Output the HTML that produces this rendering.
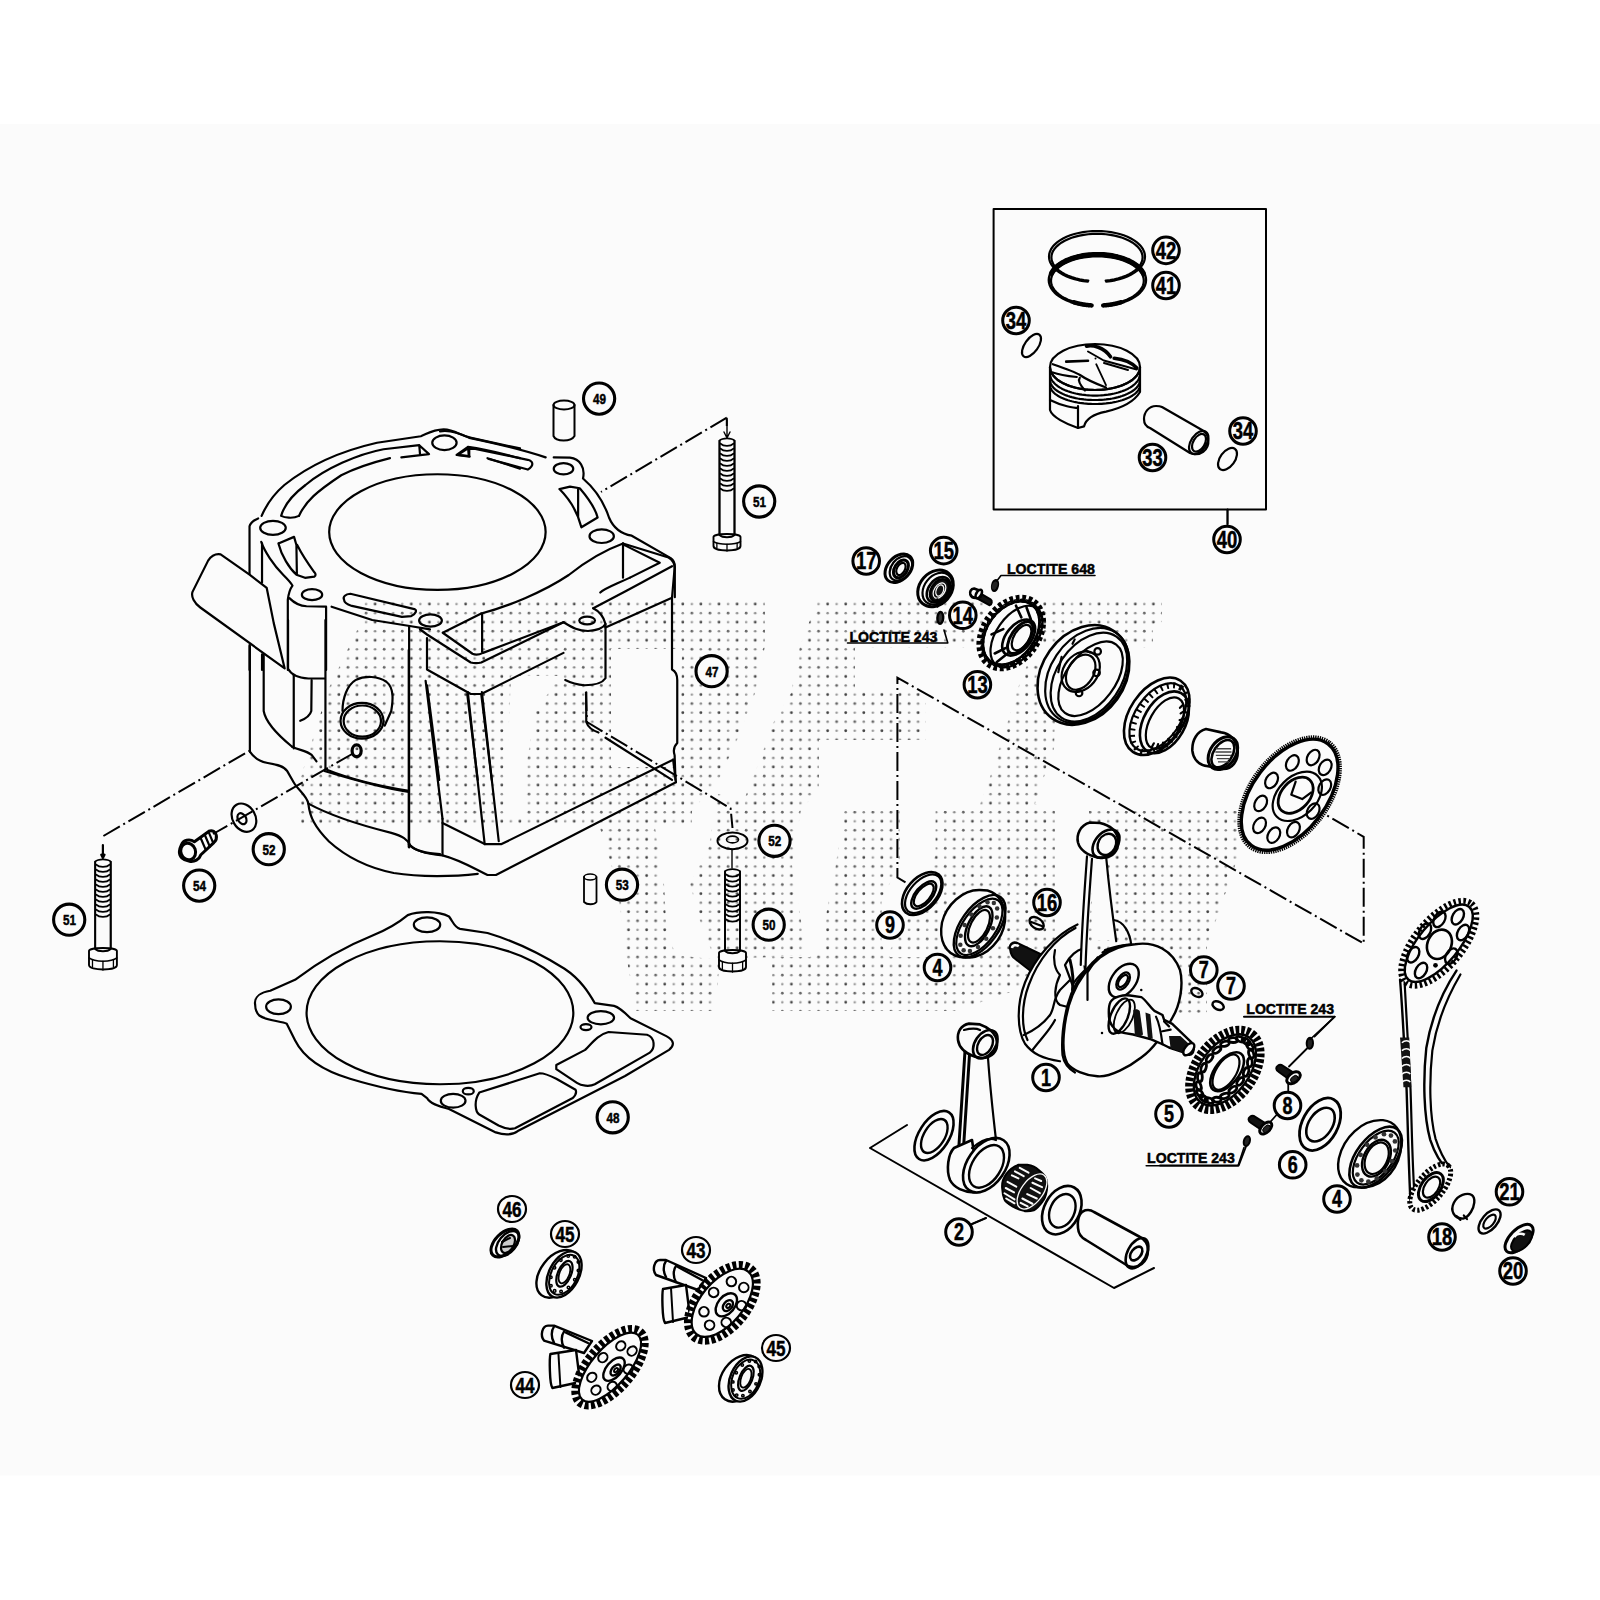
<!DOCTYPE html>
<html><head><meta charset="utf-8">
<style>
html,body{margin:0;padding:0;background:#fff;width:1600px;height:1600px;overflow:hidden}
svg{display:block}
.l{fill:none;stroke:#000;stroke-width:2.2;stroke-linecap:round;stroke-linejoin:round;vector-effect:non-scaling-stroke}
.lw{fill:#fbfbfb;stroke:#000;stroke-width:2.2;stroke-linejoin:round;vector-effect:non-scaling-stroke}
.th{fill:none;stroke:#000;stroke-width:1.4;stroke-linecap:round;vector-effect:non-scaling-stroke}
.d{fill:none;stroke:#000;stroke-width:2;stroke-dasharray:19 4 2 4;vector-effect:non-scaling-stroke}
.dd{fill:none;stroke:#000;stroke-width:1.6;stroke-dasharray:8 5;vector-effect:non-scaling-stroke}
.c{fill:#fbfbfb;stroke:#000;stroke-width:2.6}
.t{font-family:"Liberation Sans",sans-serif;font-weight:bold;fill:#000;stroke:#000;stroke-width:0.5;text-anchor:middle}
</style></head><body>
<svg width="1600" height="1600" viewBox="0 0 1600 1600">
<defs>
<pattern id="dots" x="8.575" y="2.235" width="18.1" height="18.1" patternUnits="userSpaceOnUse">
<circle cx="4.525" cy="4.525" r="1.4" fill="#444"/><circle cx="13.575" cy="4.525" r="1.3" fill="#999"/>
<circle cx="4.525" cy="13.575" r="1.3" fill="#888"/><circle cx="13.575" cy="13.575" r="1.4" fill="#666"/>
</pattern>
</defs>
<rect x="0" y="124" width="1600" height="1351.5" fill="#fbfbfb"/>
<polygon fill="url(#dots)" points="362,602 765,602 765,646 755,693 737,740 720,777 692,811 692,828 300,828 300,780 328,690 362,620"/>
<polygon fill="url(#dots)" points="600,828 655,828 664,884 666,921 675,955 720,960 715,1011 636,1011 627,960 617,884"/>
<polygon fill="url(#dots)" points="817,602 1162,602 1162,622 1153,624 1153,648 855,648 800,646"/>
<polygon fill="url(#dots)" points="800,646 855,648 855,690 926,693 926,740 819,740 819,790 801,809 792,865 801,921 805,955 715,960 700,921 690,884 709,846 718,794 744,800 760,760 772,725 791,693"/>
<polygon fill="url(#dots)" points="844,811 899.5,811 899.5,864 881.5,900 881.5,945 890,957 955,957 955,1011 772,1011 772,957 810,957 826,945 826,915 835,870"/>
<polygon fill="url(#dots)" points="1027,665 1087,665 1056,693 1054,749 1044,777 1035,804 1055,811 1055,977 955,1011 955,957 890,950 910,915 935.5,855 935.5,811 954,811 980,804 990,777 999,749 1008,721 1016,693"/>
<polygon fill="url(#dots)" points="1089,811 1254,811 1207,946 1207,1013 1089,1013"/>
<polygon fill="#fbfbfb" points="611,649 682,649 680,767 611,767"/>
<polygon fill="#fbfbfb" points="511,676 560,676 536,711 527,760 522,816 505,816"/>
<!-- CYLINDER F_C -->
<g transform="translate(180,420) scale(0.15625)">
<path class="l" d="M445,990 L445,680 C450,660 475,640 500,630"/>
<path class="l" d="M525,1040 L525,790"/>
<path class="l" d="M520,780 C540,840 600,930 660,990 C690,1020 715,1050 720,1060 C705,1080 695,1110 690,1150 L690,1600"/>
<path class="l" d="M700,1140 C730,1170 770,1190 810,1192 L935,1195 L935,1600"/>
<path class="l" d="M630,790 L730,748 L745,800 L748,985 M630,790 C650,870 700,950 745,990 L800,1010 L860,1002 C870,995 870,985 860,975 C820,920 780,860 750,800"/>
<path class="lw" d="M445,990 L260,860 C230,855 200,870 180,900 L80,1100 C70,1130 90,1170 130,1200 L670,1590 L600,1300 L555,1075 Z"/>
<path class="l" d="M445,1440 L445,1600 M525,1500 L525,1600"/>
<ellipse class="l" cx="595" cy="690" rx="82" ry="45"/>
<ellipse class="l" cx="845" cy="1118" rx="65" ry="35"/>
<path class="l" d="M1050,1150 C1040,1130 1060,1115 1090,1112 L1500,1210 C1520,1215 1510,1240 1480,1255 L1420,1260 L1100,1190 C1070,1180 1050,1170 1050,1150 Z"/>
<path class="l" d="M970,1195 L1230,1280 L1480,1320 L1600,1340"/>
</g>
<!-- F_A -->
<g transform="translate(260,420) scale(0.1625)">
<path class="l" d="M10,590 C40,520 80,460 150,400 C300,280 500,190 720,140 L990,100 C1030,85 1060,60 1130,58 C1200,60 1230,95 1300,110 L1600,175"/>
<path class="l" d="M240,590 C200,610 150,600 130,590 C150,520 200,460 280,400 C400,300 600,210 760,180 L980,155 L1040,210 L870,230 M980,155 L985,215"/>
<path class="l" d="M1210,215 L1280,165 C1400,180 1500,210 1600,235 M1290,225 L1210,215 M1280,165 L1285,225"/>
<path class="l" d="M240,590 C280,500 350,440 500,340 C600,290 700,260 800,235"/>
<path class="l" d="M1400,235 C1480,260 1540,280 1600,300"/>
<ellipse class="l" cx="1135" cy="140" rx="75" ry="45"/>
</g>
<!-- F_B -->
<g transform="translate(440,420) scale(0.1625)">
<path class="l" d="M0,70 C60,60 120,80 180,110 C300,135 500,180 650,230"/>
<path class="l" d="M700,230 L800,232 C860,240 895,290 880,360 C950,420 1010,510 1040,600 C1065,660 1110,700 1180,712 L1420,850 C1440,865 1445,885 1445,900 L1445,1090"/>
<path class="l" d="M110,215 L180,170 L540,245 C575,255 580,280 540,305 L300,240 M180,170 L180,222 L110,215"/>
<ellipse class="l" cx="760" cy="300" rx="60" ry="35"/>
<ellipse class="l" cx="995" cy="715" rx="75" ry="42"/>
<path class="l" d="M735,425 L800,410 L860,420 C920,490 960,560 970,600 L870,660 C850,580 810,500 735,425 Z M850,420 L850,600"/>
</g>
<!-- F_E box -->
<g transform="translate(420,540) scale(0.175)">
<path class="l" d="M350,420 C500,380 700,300 850,200 C950,120 1050,60 1160,20"/>
<ellipse class="l" cx="60" cy="460" rx="65" ry="35"/>
<path class="l" d="M130,530 L350,420 M355,425 L355,640 M130,530 L300,650 C320,660 340,655 360,645 L820,470"/>
<path class="l" d="M820,470 C870,500 900,520 960,520 C1020,515 1050,500 1060,480 L1060,790 C1040,820 1000,830 940,830 C880,825 850,810 830,800"/>
<ellipse class="l" cx="955" cy="460" rx="45" ry="22"/>
<path class="l" d="M990,390 C1030,410 1050,440 1060,480"/>
<path class="l" d="M0,510 L40,540 L290,700 C310,705 330,705 350,700 L820,470 M990,390 L1180,290 L1440,150"/>
<path class="l" d="M1160,20 L1420,100 C1445,115 1455,135 1455,160 L1440,330 L1060,500"/>
<path class="l" d="M1160,20 L1160,215 M1160,25 L1370,130 L1200,215"/>
<path class="l" d="M1030,300 C1050,280 1080,270 1200,215"/>
<path class="l" d="M40,560 L40,740 L290,880 L350,880 L820,645"/>
<path class="l" d="M40,830 L110,1371 M270,880 L330,1371 M350,880 L410,1371"/>
<path class="l" d="M950,870 L950,1040 C960,1070 990,1090 1020,1100"/>
<path class="l" d="M1060,1130 L1440,1371"/>
<path class="l" d="M1440,330 L1440,740 C1460,750 1470,770 1470,800 L1470,1160 C1450,1180 1445,1200 1455,1230 L1460,1371"/>
</g>
<g transform="translate(180,380) scale(0.325)">
<ellipse class="l" cx="792" cy="468" rx="333" ry="178"/>
</g>
<!-- F_F lower-left -->
<g transform="translate(180,620) scale(0.1625)">
<path class="l" d="M430,160 L430,810"/>
<path class="l" d="M515,215 L515,560 C525,620 580,690 690,780"/>
<path class="l" d="M665,0 L665,300 C680,330 720,355 790,360 L890,360"/>
<path class="l" d="M700,340 L700,790"/>
<path class="l" d="M810,370 L808,560 C800,590 780,605 740,620"/>
<path class="l" d="M895,0 L895,920"/>
<path class="l" d="M430,810 C450,840 480,870 540,880 C600,890 640,900 660,930 L700,1000 C730,1050 780,1080 790,1130"/>
<path class="l" d="M690,780 C730,800 780,805 810,830 L840,870"/>
<path class="l" d="M900,920 C1000,960 1150,1010 1400,1050"/>
<path class="l" d="M790,1130 C900,1190 1100,1260 1300,1310 C1370,1330 1400,1350 1420,1390 C1450,1420 1500,1435 1600,1440"/>
<path class="l" d="M1410,40 L1410,1400"/>
<path class="l" d="M1000,560 C1000,480 1030,400 1080,370 C1140,340 1220,345 1270,380 C1320,420 1310,500 1300,560 L1260,650"/>
<ellipse class="l" cx="1120" cy="620" rx="132" ry="110"/>
<ellipse class="l" cx="1122" cy="622" rx="115" ry="96"/>
<ellipse class="l" cx="1087" cy="805" rx="28" ry="36" style="stroke-width:3.2"/>
</g>
<!-- F_D bottom -->
<g transform="translate(240,650) scale(0.28125)">
<path class="l" d="M600,0 L600,700"/>
<path class="l" d="M300,430 C400,460 500,490 600,505"/>
<path class="l" d="M720,600 L720,730"/>
<path class="l" d="M660,110 L720,600 M810,150 L870,690 M860,150 L920,680"/>
<path class="l" d="M720,615 L870,690 L930,690 L1540,390"/>
<path class="l" d="M600,690 C620,715 660,725 720,730 C780,745 830,775 880,800 L910,800 L1550,470"/>
<path class="l" d="M1540,390 L1550,470"/>
</g>
<g transform="translate(280,740) scale(0.175)">
<path class="l" d="M162,363 C170,440 200,500 280,580 C380,670 500,730 650,760 C800,785 1000,780 1130,765"/>
</g>

<!-- LEFT BOLTS frame L1 (40,780) s=6.154 -->
<g transform="translate(40,780) scale(0.1625)">
<path class="l" d="M387,400 L387,478 M377,460 L387,480 L397,460"/>
<path class="lw" d="M870,400 C880,370 920,360 950,380 L1040,315 C1060,305 1080,320 1085,340 C1090,360 1080,375 1070,385 L990,460 C980,490 950,505 920,500 C880,495 855,470 858,440 C860,420 865,410 870,400 Z" style="stroke-width:3"/>
<ellipse class="l" cx="912" cy="440" rx="45" ry="52" transform="rotate(-20 912 440)" style="stroke-width:3"/>
<path class="th" d="M990,360 L1020,430 M1015,340 L1045,410 M1040,325 L1065,385" style="stroke-width:2.2"/>
<ellipse class="l" cx="1255" cy="232" rx="70" ry="92" transform="rotate(-30 1255 232)"/>
<ellipse class="l" cx="1243" cy="238" rx="25" ry="36" transform="rotate(-30 1243 238)"/>
</g>

<g transform="translate(240,900) scale(0.27503)">
<path class="l" d="M55,380 C50,350 80,335 110,330 L200,290 C280,230 380,170 480,130 C530,110 580,80 610,55 C650,40 720,40 760,60 C775,80 780,100 800,105 L900,120 C1000,150 1100,200 1180,250 C1240,290 1270,340 1290,375 L1360,385 C1380,390 1400,410 1420,430 L1550,495 C1580,510 1580,530 1560,545 L1400,640 L1010,840 C990,855 960,855 930,845 L760,760 C720,750 690,740 680,720 L660,705 C600,700 500,680 400,650 C300,620 230,570 200,510 L170,450 C150,440 100,440 70,420 C60,410 55,395 55,380 Z"/>
<ellipse class="l" cx="727" cy="410" rx="485" ry="260"/>
<ellipse class="l" cx="140" cy="388" rx="45" ry="27"/>
<ellipse class="l" cx="680" cy="90" rx="48" ry="27"/>
<ellipse class="l" cx="1312" cy="428" rx="48" ry="24"/>
<ellipse class="l" cx="1258" cy="462" rx="20" ry="11"/>
<ellipse class="l" cx="775" cy="730" rx="45" ry="25"/>
<ellipse class="l" cx="830" cy="695" rx="20" ry="12"/>
<path class="l" d="M1150,600 L1255,545 C1280,520 1300,490 1340,480 L1480,490 C1510,500 1510,540 1490,555 L1290,670 C1270,680 1240,675 1225,665 L1150,615 Z"/>
<path class="l" d="M870,700 L1090,630 C1110,630 1130,640 1150,650 L1220,690 C1225,700 1220,710 1210,720 L1000,830 C980,835 960,830 940,820 L870,780 C855,770 850,730 870,700 Z"/>
</g>

<path class="l" d="M719.5,534 L719.5,440.6 C722.5,437.6 731.5,437.6 734.5,440.6 L734.5,534" style="stroke-width:1.8"/>
<path class="l" d="M720.5,443.6 C723.5,446.6 730.5,446.6 733.5,443.6" style="stroke-width:1.8"/>
<path class="l" d="M720.5,448.6 C723.5,451.6 730.5,451.6 733.5,448.6" style="stroke-width:1.8"/>
<path class="l" d="M720.5,453.6 C723.5,456.6 730.5,456.6 733.5,453.6" style="stroke-width:1.8"/>
<path class="l" d="M720.5,458.6 C723.5,461.6 730.5,461.6 733.5,458.6" style="stroke-width:1.8"/>
<path class="l" d="M720.5,463.6 C723.5,466.6 730.5,466.6 733.5,463.6" style="stroke-width:1.8"/>
<path class="l" d="M720.5,468.6 C723.5,471.6 730.5,471.6 733.5,468.6" style="stroke-width:1.8"/>
<path class="l" d="M720.5,473.6 C723.5,476.6 730.5,476.6 733.5,473.6" style="stroke-width:1.8"/>
<path class="l" d="M720.5,478.6 C723.5,481.6 730.5,481.6 733.5,478.6" style="stroke-width:1.8"/>
<path class="l" d="M720.5,483.6 C723.5,486.6 730.5,486.6 733.5,483.6" style="stroke-width:1.8"/>
<path class="l" d="M720.5,488.6 C723.5,491.6 730.5,491.6 733.5,488.6" style="stroke-width:1.8"/>
<path class="lw" d="M713.5,537 C713.5,533 740.5,533 740.5,537 L740.5,546 C740.5,552 713.5,552 713.5,546 Z" style="stroke-width:1.9"/>
<path class="l" d="M713.5,541.65 C718.9,545.05 735.1,545.05 740.5,541.65" style="stroke-width:1.5"/>
<path class="l" d="M716.875,543.35 L716.875,548 M737.125,543.35 L737.125,548 M727.0,544.2 L727.0,551" style="stroke-width:1.3"/>
<path class="l" d="M719.5,535 C722.5,538 731.5,538 734.5,535 M719.5,534 L719.5,440.6 M734.5,534 L734.5,440.6" style="stroke-width:1.8"/>
<path class="l" d="M727,420 L727,436 M724,432 L727,438 L730,432" style="stroke-width:1.4"/>
<path class="l" d="M95.2,948 L95.2,861.6 C98.2,858.6 107.7,858.6 110.7,861.6 L110.7,948" style="stroke-width:1.8"/>
<path class="l" d="M96.2,864.6 C99.2,867.6 106.7,867.6 109.7,864.6" style="stroke-width:1.8"/>
<path class="l" d="M96.2,869.6 C99.2,872.6 106.7,872.6 109.7,869.6" style="stroke-width:1.8"/>
<path class="l" d="M96.2,874.6 C99.2,877.6 106.7,877.6 109.7,874.6" style="stroke-width:1.8"/>
<path class="l" d="M96.2,879.6 C99.2,882.6 106.7,882.6 109.7,879.6" style="stroke-width:1.8"/>
<path class="l" d="M96.2,884.6 C99.2,887.6 106.7,887.6 109.7,884.6" style="stroke-width:1.8"/>
<path class="l" d="M96.2,889.6 C99.2,892.6 106.7,892.6 109.7,889.6" style="stroke-width:1.8"/>
<path class="l" d="M96.2,894.6 C99.2,897.6 106.7,897.6 109.7,894.6" style="stroke-width:1.8"/>
<path class="l" d="M96.2,899.6 C99.2,902.6 106.7,902.6 109.7,899.6" style="stroke-width:1.8"/>
<path class="l" d="M96.2,904.6 C99.2,907.6 106.7,907.6 109.7,904.6" style="stroke-width:1.8"/>
<path class="l" d="M96.2,909.6 C99.2,912.6 106.7,912.6 109.7,909.6" style="stroke-width:1.8"/>
<path class="l" d="M96.2,914.6 C99.2,917.6 106.7,917.6 109.7,914.6" style="stroke-width:1.8"/>
<path class="lw" d="M89.0,951 C89.0,947 116.9,947 116.9,951 L116.9,965 C116.9,971 89.0,971 89.0,965 Z" style="stroke-width:1.9"/>
<path class="l" d="M89.0,957.9 C94.58,962.3 111.32000000000001,962.3 116.9,957.9" style="stroke-width:1.5"/>
<path class="l" d="M92.4875,960.1 L92.4875,967 M113.41250000000001,960.1 L113.41250000000001,967 M102.95,961.2 L102.95,970" style="stroke-width:1.3"/>
<path class="l" d="M95.2,949 C98.2,952 107.7,952 110.7,949 M95.2,948 L95.2,861.6 M110.7,948 L110.7,861.6" style="stroke-width:1.8"/>
<path class="l" d="M725,950 L725,871.4 C728,868.4 737,868.4 740,871.4 L740,950" style="stroke-width:1.8"/>
<path class="l" d="M726,874.4 C729,877.4 736,877.4 739,874.4" style="stroke-width:1.8"/>
<path class="l" d="M726,879.4 C729,882.4 736,882.4 739,879.4" style="stroke-width:1.8"/>
<path class="l" d="M726,884.4 C729,887.4 736,887.4 739,884.4" style="stroke-width:1.8"/>
<path class="l" d="M726,889.4 C729,892.4 736,892.4 739,889.4" style="stroke-width:1.8"/>
<path class="l" d="M726,894.4 C729,897.4 736,897.4 739,894.4" style="stroke-width:1.8"/>
<path class="l" d="M726,899.4 C729,902.4 736,902.4 739,899.4" style="stroke-width:1.8"/>
<path class="l" d="M726,904.4 C729,907.4 736,907.4 739,904.4" style="stroke-width:1.8"/>
<path class="l" d="M726,909.4 C729,912.4 736,912.4 739,909.4" style="stroke-width:1.8"/>
<path class="l" d="M726,914.4 C729,917.4 736,917.4 739,914.4" style="stroke-width:1.8"/>
<path class="l" d="M726,919.4 C729,922.4 736,922.4 739,919.4" style="stroke-width:1.8"/>
<path class="lw" d="M719.0,953 C719.0,949 746.0,949 746.0,953 L746.0,967 C746.0,973 719.0,973 719.0,967 Z" style="stroke-width:1.9"/>
<path class="l" d="M719.0,959.9 C724.4,964.3 740.6,964.3 746.0,959.9" style="stroke-width:1.5"/>
<path class="l" d="M722.375,962.1 L722.375,969 M742.625,962.1 L742.625,969 M732.5,963.2 L732.5,972" style="stroke-width:1.3"/>
<path class="l" d="M725,951 C728,954 737,954 740,951 M725,950 L725,871.4 M740,950 L740,871.4" style="stroke-width:1.8"/>
<ellipse class="l" cx="732.5" cy="840.8" rx="15" ry="8.4" style="stroke-width:2"/>
<ellipse class="l" cx="732.5" cy="839.5" rx="6" ry="3.4" style="stroke-width:1.6"/>
<path class="l" d="M732,849 L732,868" style="stroke-width:1.4"/>
<path class="l" d="M553.5,405 L553.5,436 C556,442 571,442 574.5,436 L574.5,405" style="stroke-width:2"/>
<ellipse class="l" cx="564" cy="405" rx="10.5" ry="4.5" style="stroke-width:2"/>
<path class="l" d="M584,877 L584,902 C587,905 594,905 596.5,902 L596.5,877" style="stroke-width:1.8"/>
<ellipse class="l" cx="590.2" cy="877" rx="6.2" ry="3" style="stroke-width:1.6"/>
<g transform="translate(990,200) scale(0.20000)">
<rect x="18" y="45" width="1362" height="1503" class="l" style="stroke-width:2"/>
<path class="l" d="M1188,1548 L1188,1620" style="stroke-width:2"/>
<polyline class="l" points="489.2,408.6 466.3,405.6 444.1,401.5 422.7,396.1 402.4,389.7 383.4,382.2 365.9,373.8 350.0,364.5 335.9,354.5 323.7,343.7 313.5,332.3 305.5,320.5 299.7,308.3 296.2,295.9 295.0,283.3 296.1,270.7 299.5,258.3 305.2,246.1 313.1,234.2 323.2,222.8 335.3,212.0 349.3,201.9 365.1,192.6 382.6,184.1 401.5,176.6 421.7,170.2 443.0,164.8 465.2,160.5 488.1,157.5 511.4,155.6 535.0,155.0 558.6,155.6 581.9,157.5 604.8,160.5 627.0,164.8 648.3,170.2 668.5,176.6 687.4,184.1 704.9,192.6 720.7,201.9 734.7,212.0 746.8,222.8 756.9,234.2 764.8,246.1 770.5,258.3 773.9,270.7 775.0,283.3 773.8,295.9 770.3,308.3 764.5,320.5 756.5,332.3 746.3,343.7 734.1,354.5 720.0,364.5 704.1,373.8 686.6,382.2 667.6,389.7 647.3,396.1 625.9,401.5 603.7,405.6 580.8,408.6" />
<polyline class="l" points="491.5,402.8 469.7,400.1 448.6,396.2 428.3,391.3 409.0,385.4 391.0,378.5 374.3,370.7 359.2,362.2 345.8,352.9 334.3,342.9 324.6,332.5 317.0,321.6 311.5,310.3 308.2,298.9 307.0,287.3 308.0,275.7 311.3,264.2 316.7,253.0 324.2,242.0 333.8,231.5 345.2,221.6 358.6,212.3 373.6,203.7 390.2,195.9 408.2,188.9 427.4,183.0 447.6,178.0 468.7,174.1 490.5,171.3 512.6,169.6 535.0,169.0 557.4,169.6 579.5,171.3 601.3,174.1 622.4,178.0 642.6,183.0 661.8,188.9 679.8,195.9 696.4,203.7 711.4,212.3 724.8,221.6 736.2,231.5 745.8,242.0 753.3,253.0 758.7,264.2 762.0,275.7 763.0,287.3 761.8,298.9 758.5,310.3 753.0,321.6 745.4,332.5 735.7,342.9 724.2,352.9 710.8,362.2 695.7,370.7 679.0,378.5 661.0,385.4 641.7,391.3 621.4,396.2 600.3,400.1 578.5,402.8" />
<polyline class="l" points="490.6,529.6 467.4,526.5 444.9,522.2 423.3,516.7 402.8,510.0 383.5,502.3 365.8,493.7 349.7,484.1 335.4,473.7 323.0,462.6 312.8,450.9 304.7,438.7 298.8,426.1 295.2,413.3 294.0,400.3 295.1,387.3 298.6,374.5 304.3,361.9 312.3,349.7 322.5,338.0 334.8,326.8 349.0,316.4 365.0,306.8 382.7,298.0 401.8,290.3 422.3,283.6 443.9,278.1 466.4,273.7 489.5,270.5 513.1,268.6 537.0,268.0 560.9,268.6 584.5,270.5 607.6,273.7 630.1,278.1 651.7,283.6 672.2,290.3 691.3,298.0 709.0,306.8 725.0,316.4 739.2,326.8 751.5,338.0 761.7,349.7 769.7,361.9 775.4,374.5 778.9,387.3 780.0,400.3 778.8,413.3 775.2,426.1 769.3,438.7 761.2,450.9 751.0,462.6 738.6,473.7 724.3,484.1 708.2,493.7 690.5,502.3 671.2,510.0 650.7,516.7 629.1,522.2 606.6,526.5 583.4,529.6" style="stroke-width:2.4"/>
<polyline class="l" points="492.7,523.8 470.6,520.9 449.1,516.9 428.4,511.8 408.8,505.7 390.5,498.6 373.5,490.6 358.2,481.7 344.5,472.1 332.7,461.8 322.9,451.0 315.2,439.7 309.6,428.1 306.2,416.3 305.0,404.3 306.1,392.3 309.4,380.4 314.9,368.8 322.5,357.5 332.2,346.7 343.9,336.4 357.5,326.7 372.8,317.8 389.6,309.8 407.9,302.6 427.5,296.4 448.1,291.3 469.6,287.3 491.7,284.4 514.2,282.6 537.0,282.0 559.8,282.6 582.3,284.4 604.4,287.3 625.9,291.3 646.5,296.4 666.1,302.6 684.4,309.8 701.2,317.8 716.5,326.7 730.1,336.4 741.8,346.7 751.5,357.5 759.1,368.8 764.6,380.4 767.9,392.3 769.0,404.3 767.8,416.3 764.4,428.1 758.8,439.7 751.1,451.0 741.3,461.8 729.5,472.1 715.8,481.7 700.5,490.6 683.5,498.6 665.2,505.7 645.6,511.8 624.9,516.9 603.4,520.9 581.3,523.8" />
<polyline class="l" points="307.1,366.9 310.0,361.5 313.4,356.2 317.1,351.0 321.3,345.9 325.9,340.9 330.9,336.0 336.3,331.2 342.0,326.6 348.2,322.1 354.7,317.7 361.5,313.5 368.7,309.5 376.2,305.6 384.0,301.9 392.1,298.5 400.5,295.1 409.1,292.0 418.0,289.1 427.1,286.5 436.4,284.0 445.9,281.7 455.6,279.7 465.4,277.9 475.4,276.4 485.5,275.0 495.7,273.9 505.9,273.1 516.3,272.5 526.6,272.1 537.0,272.0 547.4,272.1 557.7,272.5 568.1,273.1 578.3,273.9 588.5,275.0 598.6,276.4 608.6,277.9 618.4,279.7 628.1,281.7 637.6,284.0 646.9,286.5 656.0,289.1 664.9,292.0 673.5,295.1 681.9,298.5 690.0,301.9 697.8,305.6 705.3,309.5 712.5,313.5 719.3,317.7 725.8,322.1 732.0,326.6 737.7,331.2 743.1,336.0 748.1,340.9 752.7,345.9 756.9,351.0 760.6,356.2 764.0,361.5 766.9,366.9" style="stroke-width:5"/>
<polyline class="l" points="656.0,510.9 654.6,511.3 653.2,511.7 651.8,512.1 650.4,512.5 649.0,512.9 647.6,513.3 646.2,513.7 644.8,514.1 643.4,514.5 642.0,514.9 640.5,515.3 639.1,515.6 637.6,516.0 636.2,516.4 634.8,516.7 633.3,517.1 631.8,517.4 630.4,517.7 628.9,518.1 627.4,518.4 626.0,518.7 624.5,519.0 623.0,519.4 621.5,519.7 620.0,520.0 618.5,520.3 617.0,520.5 615.5,520.8 614.0,521.1 612.5,521.4 611.0,521.7 609.5,521.9 608.0,522.2 606.5,522.4 604.9,522.7 603.4,522.9 601.9,523.2 600.3,523.4 598.8,523.6 597.3,523.8 595.7,524.0 594.2,524.3 592.6,524.5 591.1,524.7 589.5,524.8 588.0,525.0 586.4,525.2 584.9,525.4 583.3,525.6 581.7,525.7 580.2,525.9 578.6,526.0 577.0,526.2 575.5,526.3 573.9,526.5 572.3,526.6 570.7,526.7 569.2,526.8 567.6,526.9 566.0,527.0" style="stroke-width:4.5"/>
<polyline class="l" points="508.0,527.0 506.4,526.9 504.8,526.8 503.3,526.7 501.7,526.6 500.1,526.5 498.5,526.3 497.0,526.2 495.4,526.0 493.8,525.9 492.3,525.7 490.7,525.6 489.1,525.4 487.6,525.2 486.0,525.0 484.5,524.8 482.9,524.7 481.4,524.5 479.8,524.3 478.3,524.0 476.7,523.8 475.2,523.6 473.7,523.4 472.1,523.2 470.6,522.9 469.1,522.7 467.5,522.4 466.0,522.2 464.5,521.9 463.0,521.7 461.5,521.4 460.0,521.1 458.5,520.8 457.0,520.5 455.5,520.3 454.0,520.0 452.5,519.7 451.0,519.4 449.5,519.0 448.0,518.7 446.6,518.4 445.1,518.1 443.6,517.7 442.2,517.4 440.7,517.1 439.2,516.7 437.8,516.4 436.4,516.0 434.9,515.6 433.5,515.3 432.0,514.9 430.6,514.5 429.2,514.1 427.8,513.7 426.4,513.3 425.0,512.9 423.6,512.5 422.2,512.1 420.8,511.7 419.4,511.3 418.0,510.9" style="stroke-width:4.5"/>
<path class="lw" d="M300,835 L300,1050 C310,1085 380,1120 440,1140 L470,1132 C480,1090 520,1070 580,1058 C660,1040 720,1010 750,960 L750,835 Z"/>
<ellipse class="l" cx="525" cy="835" rx="225" ry="115" style="fill:#fbfbfb"/>
<polyline class="l" points="750.0,835.0 749.7,841.0 748.8,847.0 747.2,853.0 745.1,858.9 742.3,864.8 739.0,870.5 735.1,876.2 730.5,881.8 725.5,887.2 719.9,892.5 713.7,897.6 707.0,902.6 699.9,907.4 692.2,912.0 684.1,916.3 675.6,920.5 666.6,924.4 657.3,928.0 647.5,931.4 637.5,934.6 627.1,937.5 616.5,940.1 605.6,942.4 594.5,944.4 583.2,946.1 571.8,947.5 560.2,948.6 548.5,949.4 536.8,949.8 525.0,950.0 513.2,949.8 501.5,949.4 489.8,948.6 478.2,947.5 466.8,946.1 455.5,944.4 444.4,942.4 433.5,940.1 422.9,937.5 412.5,934.6 402.5,931.4 392.7,928.0 383.4,924.4 374.4,920.5 365.9,916.3 357.8,912.0 350.1,907.4 343.0,902.6 336.3,897.6 330.1,892.5 324.5,887.2 319.5,881.8 314.9,876.2 311.0,870.5 307.7,864.8 304.9,858.9 302.8,853.0 301.2,847.0 300.3,841.0 300.0,835.0" />
<polyline class="l" points="749.1,879.4 747.9,884.7 746.1,890.0 743.8,895.2 740.9,900.4 737.5,905.5 733.6,910.5 729.2,915.4 724.3,920.1 718.9,924.8 713.0,929.3 706.6,933.7 699.9,938.0 692.6,942.0 685.0,945.9 677.0,949.6 668.6,953.1 659.9,956.4 650.8,959.5 641.4,962.4 631.8,965.1 621.9,967.5 611.7,969.7 601.3,971.6 590.8,973.3 580.1,974.7 569.2,975.9 558.3,976.8 547.2,977.5 536.1,977.9 525.0,978.0 513.9,977.9 502.8,977.5 491.7,976.8 480.8,975.9 469.9,974.7 459.2,973.3 448.7,971.6 438.3,969.7 428.1,967.5 418.2,965.1 408.6,962.4 399.2,959.5 390.1,956.4 381.4,953.1 373.0,949.6 365.0,945.9 357.4,942.0 350.1,938.0 343.4,933.7 337.0,929.3 331.1,924.8 325.7,920.1 320.8,915.4 316.4,910.5 312.5,905.5 309.1,900.4 306.2,895.2 303.9,890.0 302.1,884.7 300.9,879.4" />
<polyline class="l" points="749.1,908.7 747.9,913.6 746.1,918.5 743.8,923.3 740.9,928.1 737.5,932.8 733.6,937.5 729.2,942.0 724.3,946.4 718.9,950.8 713.0,955.0 706.6,959.0 699.9,962.9 692.6,966.7 685.0,970.3 677.0,973.7 668.6,977.0 659.9,980.0 650.8,982.9 641.4,985.6 631.8,988.0 621.9,990.3 611.7,992.3 601.3,994.1 590.8,995.6 580.1,997.0 569.2,998.1 558.3,998.9 547.2,999.5 536.1,999.9 525.0,1000.0 513.9,999.9 502.8,999.5 491.7,998.9 480.8,998.1 469.9,997.0 459.2,995.6 448.7,994.1 438.3,992.3 428.1,990.3 418.2,988.0 408.6,985.6 399.2,982.9 390.1,980.0 381.4,977.0 373.0,973.7 365.0,970.3 357.4,966.7 350.1,962.9 343.4,959.0 337.0,955.0 331.1,950.8 325.7,946.4 320.8,942.0 316.4,937.5 312.5,932.8 309.1,928.1 306.2,923.3 303.9,918.5 302.1,913.6 300.9,908.7" />
<polyline class="l" points="749.1,933.3 747.9,937.9 746.1,942.6 743.8,947.2 740.9,951.7 737.5,956.2 733.6,960.6 729.2,964.9 724.3,969.1 718.9,973.2 713.0,977.2 706.6,981.1 699.9,984.8 692.6,988.4 685.0,991.8 677.0,995.0 668.6,998.1 659.9,1001.0 650.8,1003.8 641.4,1006.3 631.8,1008.6 621.9,1010.7 611.7,1012.7 601.3,1014.4 590.8,1015.8 580.1,1017.1 569.2,1018.1 558.3,1019.0 547.2,1019.5 536.1,1019.9 525.0,1020.0 513.9,1019.9 502.8,1019.5 491.7,1019.0 480.8,1018.1 469.9,1017.1 459.2,1015.8 448.7,1014.4 438.3,1012.7 428.1,1010.7 418.2,1008.6 408.6,1006.3 399.2,1003.8 390.1,1001.0 381.4,998.1 373.0,995.0 365.0,991.8 357.4,988.4 350.1,984.8 343.4,981.1 337.0,977.2 331.1,973.2 325.7,969.1 320.8,964.9 316.4,960.6 312.5,956.2 309.1,951.7 306.2,947.2 303.9,942.6 302.1,937.9 300.9,933.3" />
<path class="l" d="M440,1030 L440,1140 M300,1000 C360,1030 420,1040 440,1040"/>
<path class="l" d="M482.5,731 C512.5,724 568.75,735 602.5,784" style="stroke-width:3.6"/>
<path class="l" d="M490,757.5 L568.75,802.5 L733.75,847.5 M570,815 L690,850" style="stroke-width:2"/>
<path class="l" d="M621,791 C660,795 700,802.5 733.75,840" style="stroke-width:3.6"/>
<circle cx="527.5" cy="793" r="5" fill="#000"/>
<path class="l" d="M531,821 L580,926" style="stroke-width:1.8"/>
<path class="l" d="M381,808 L490,804" style="stroke-width:2.6"/>
<path class="l" d="M314,821 C370,840 430,862.5 450,875 C475,892.5 520,915 580,937.5" style="stroke-width:2.2"/>
<path class="l" d="M314,862.5 C340,872 362.5,877.5 434,885 M449,889 C440,900 445,919 475,952.5" style="stroke-width:2.2"/>
<path class="lw" d="M830,1030 C795,1030 770,1060 770,1095 C770,1120 785,1135 800,1140 L1000,1265 C1050,1285 1095,1250 1092,1200 C1090,1170 1075,1160 1060,1150 L860,1035 C850,1030 840,1030 830,1030 Z"/>
<ellipse class="l" cx="1043.5" cy="1212.5" rx="64.5" ry="38.8" transform="rotate(-55.55 1043.5 1212.5)" />
<ellipse class="l" cx="1045.0" cy="1214.0" rx="48.3" ry="28.8" transform="rotate(-59.15 1045.0 1214.0)" />
<ellipse class="l" cx="207.5" cy="727.5" rx="66.7" ry="33.4" transform="rotate(-54.18 207.5 727.5)" />
<ellipse class="l" cx="1187.5" cy="1295.0" rx="62.7" ry="36.7" transform="rotate(-53.63 1187.5 1295.0)" />
</g>

<g transform="translate(880,560) scale(0.10625)">
<ellipse cx="1235.0" cy="687.5" rx="357.4" ry="251.5" transform="rotate(-54.04 1235.0 687.5)" style="fill:#fbfbfb;stroke:#000;stroke-width:7.5;stroke-dasharray:3.6 2.6;vector-effect:non-scaling-stroke"/>
<ellipse cx="1235.0" cy="687.5" rx="330.4" ry="224.5" transform="rotate(-54.04 1235.0 687.5)" class="l" style="stroke-width:2.6"/>
<ellipse cx="1433.2" cy="414.4" rx="12" ry="22" transform="rotate(-54.0 1433.2 414.4)" class="l" style="stroke-width:1.6"/>
<ellipse cx="1467.8" cy="448.6" rx="12" ry="22" transform="rotate(-42.0 1467.8 448.6)" class="l" style="stroke-width:1.6"/>
<ellipse cx="1492.2" cy="493.3" rx="12" ry="22" transform="rotate(-30.0 1492.2 493.3)" class="l" style="stroke-width:1.6"/>
<ellipse cx="1505.4" cy="546.4" rx="12" ry="22" transform="rotate(-18.0 1505.4 546.4)" class="l" style="stroke-width:1.6"/>
<ellipse cx="1506.8" cy="605.8" rx="12" ry="22" transform="rotate(-6.0 1506.8 605.8)" class="l" style="stroke-width:1.6"/>
<ellipse cx="1496.3" cy="668.7" rx="12" ry="22" transform="rotate(6.0 1496.3 668.7)" class="l" style="stroke-width:1.6"/>
<ellipse cx="1474.4" cy="732.4" rx="12" ry="22" transform="rotate(18.0 1474.4 732.4)" class="l" style="stroke-width:1.6"/>
<ellipse cx="1442.0" cy="794.1" rx="12" ry="22" transform="rotate(30.0 1442.0 794.1)" class="l" style="stroke-width:1.6"/>
<ellipse cx="1400.6" cy="851.2" rx="12" ry="22" transform="rotate(42.0 1400.6 851.2)" class="l" style="stroke-width:1.6"/>
<ellipse cx="1351.9" cy="901.2" rx="12" ry="22" transform="rotate(54.0 1351.9 901.2)" class="l" style="stroke-width:1.6"/>
<ellipse cx="1298.2" cy="941.8" rx="12" ry="22" transform="rotate(66.0 1298.2 941.8)" class="l" style="stroke-width:1.6"/>
<ellipse cx="1241.6" cy="971.3" rx="12" ry="22" transform="rotate(78.0 1241.6 971.3)" class="l" style="stroke-width:1.6"/>
<ellipse cx="1184.8" cy="988.4" rx="12" ry="22" transform="rotate(90.0 1184.8 988.4)" class="l" style="stroke-width:1.6"/>
<ellipse cx="1130.2" cy="992.3" rx="12" ry="22" transform="rotate(102.0 1130.2 992.3)" class="l" style="stroke-width:1.6"/>
<ellipse cx="1080.1" cy="982.9" rx="12" ry="22" transform="rotate(114.0 1080.1 982.9)" class="l" style="stroke-width:1.6"/>
<ellipse cx="1036.8" cy="960.6" rx="12" ry="22" transform="rotate(126.0 1036.8 960.6)" class="l" style="stroke-width:1.6"/>
<ellipse cx="1002.2" cy="926.4" rx="12" ry="22" transform="rotate(138.0 1002.2 926.4)" class="l" style="stroke-width:1.6"/>
<ellipse cx="977.8" cy="881.7" rx="12" ry="22" transform="rotate(150.0 977.8 881.7)" class="l" style="stroke-width:1.6"/>
<ellipse cx="964.6" cy="828.6" rx="12" ry="22" transform="rotate(162.0 964.6 828.6)" class="l" style="stroke-width:1.6"/>
<ellipse cx="963.2" cy="769.2" rx="12" ry="22" transform="rotate(174.0 963.2 769.2)" class="l" style="stroke-width:1.6"/>
<ellipse cx="973.7" cy="706.3" rx="12" ry="22" transform="rotate(186.0 973.7 706.3)" class="l" style="stroke-width:1.6"/>
<ellipse cx="995.6" cy="642.6" rx="12" ry="22" transform="rotate(198.0 995.6 642.6)" class="l" style="stroke-width:1.6"/>
<ellipse cx="1028.0" cy="580.9" rx="12" ry="22" transform="rotate(210.0 1028.0 580.9)" class="l" style="stroke-width:1.6"/>
<ellipse cx="1069.4" cy="523.8" rx="12" ry="22" transform="rotate(222.0 1069.4 523.8)" class="l" style="stroke-width:1.6"/>
<ellipse cx="1118.1" cy="473.8" rx="12" ry="22" transform="rotate(234.0 1118.1 473.8)" class="l" style="stroke-width:1.6"/>
<ellipse cx="1171.8" cy="433.2" rx="12" ry="22" transform="rotate(246.0 1171.8 433.2)" class="l" style="stroke-width:1.6"/>
<ellipse cx="1228.4" cy="403.7" rx="12" ry="22" transform="rotate(258.0 1228.4 403.7)" class="l" style="stroke-width:1.6"/>
<ellipse cx="1285.2" cy="386.6" rx="12" ry="22" transform="rotate(270.0 1285.2 386.6)" class="l" style="stroke-width:1.6"/>
<ellipse cx="1339.8" cy="382.7" rx="12" ry="22" transform="rotate(282.0 1339.8 382.7)" class="l" style="stroke-width:1.6"/>
<ellipse cx="1389.9" cy="392.1" rx="12" ry="22" transform="rotate(294.0 1389.9 392.1)" class="l" style="stroke-width:1.6"/>
<ellipse class="l" cx="1285.0" cy="720.0" rx="327.9" ry="191.3" transform="rotate(-54.92 1285.0 720.0)" />
<ellipse class="l" cx="1305.0" cy="730.0" rx="198.6" ry="116.1" transform="rotate(-50.41 1305.0 730.0)" style="stroke-width:2.6"/>
<ellipse class="l" cx="1320.0" cy="730.0" rx="172.3" ry="84.8" transform="rotate(-55.55 1320.0 730.0)" style="stroke-width:3"/>
<ellipse class="l" cx="1332.5" cy="730.0" rx="133.7" ry="71.2" transform="rotate(-58.57 1332.5 730.0)" />
<path class="l" d="M1080,880 L1180,830 M1100,960 L1200,880 M1280,430 L1330,540 M1380,450 L1420,560 M1050,700 L1160,650" style="stroke-width:2.6"/>
<ellipse class="lw" cx="522.5" cy="267.5" rx="188.2" ry="149.6" transform="rotate(-48.74 522.5 267.5)" style="stroke-width:3"/>
<ellipse class="l" cx="540.0" cy="270.0" rx="165.0" ry="122.0" transform="rotate(-51.79 540.0 270.0)" />
<ellipse class="l" cx="550.0" cy="280.0" rx="134.9" ry="91.2" transform="rotate(-51.74 550.0 280.0)" style="stroke-width:2.6"/>
<ellipse class="l" cx="560.0" cy="285.0" rx="114.2" ry="78.0" transform="rotate(-57.45 560.0 285.0)" style="fill:#111;stroke-width:2.4"/>
<ellipse class="l" cx="560.0" cy="287.5" rx="80.1" ry="49.3" transform="rotate(-57.28 560.0 287.5)" style="stroke:#fbfbfb;stroke-width:1.2"/>
<ellipse class="l" cx="562.5" cy="287.5" rx="55.0" ry="33.8" transform="rotate(-67.90 562.5 287.5)" style="stroke:#fbfbfb;stroke-width:1.2"/>
<path class="l" d="M540,370 L540,440 L560,400" />
<path d="M920,300 L1040,370 C1060,385 1055,420 1030,425 L910,360 Z" fill="#111" stroke="#000" stroke-width="2" vector-effect="non-scaling-stroke"/>
<path class="lw" d="M885,268 C855,270 842,300 850,325 C858,348 880,358 905,356 L945,348 L930,285 Z" style="stroke-width:2.6"/>
<ellipse class="l" cx="930.0" cy="320.0" rx="44.1" ry="23.6" transform="rotate(-60.13 930.0 320.0)" style="fill:#fbfbfb;stroke-width:2.6"/>
<ellipse class="l" cx="1082.5" cy="240.0" rx="50.8" ry="26.1" transform="rotate(-78.36 1082.5 240.0)" style="fill:#333;stroke-width:2.4"/>
<ellipse class="l" cx="567.5" cy="545.0" rx="55.1" ry="27.3" transform="rotate(-86.54 567.5 545.0)" style="fill:#333;stroke-width:2.4"/>
</g>

<g transform="translate(840,530) scale(0.18751)">
<ellipse class="lw" cx="314.0" cy="204.0" rx="87.2" ry="60.4" transform="rotate(-47.17 314.0 204.0)" style="stroke-width:3"/>
<ellipse class="l" cx="325.0" cy="205.0" rx="72.5" ry="50.7" transform="rotate(-51.76 325.0 205.0)" />
<ellipse class="l" cx="325.0" cy="207.5" rx="52.1" ry="33.8" transform="rotate(-57.36 325.0 207.5)" style="stroke-width:3"/>
<ellipse class="l" cx="325.0" cy="207.5" rx="35.1" ry="21.2" transform="rotate(-61.78 325.0 207.5)" />
</g>

<g transform="translate(1020,600) scale(0.21877)">
<ellipse class="lw" cx="290.0" cy="342.5" rx="244.8" ry="189.5" transform="rotate(-54.30 290.0 342.5)" style="stroke-width:2.6"/>
<ellipse class="l" cx="306.5" cy="345.0" rx="235.8" ry="167.8" transform="rotate(-56.15 306.5 345.0)" />
<ellipse class="l" cx="315.0" cy="352.5" rx="223.5" ry="147.2" transform="rotate(-55.76 315.0 352.5)" />
<ellipse class="l" cx="322.5" cy="360.0" rx="195.3" ry="111.8" transform="rotate(-53.08 322.5 360.0)" />
<ellipse class="l" cx="277.5" cy="327.5" rx="101.2" ry="77.3" transform="rotate(-51.10 277.5 327.5)" />
<ellipse class="l" cx="277.5" cy="330.0" rx="86.6" ry="58.8" transform="rotate(-58.56 277.5 330.0)" />
<ellipse class="l" cx="355.0" cy="235.0" rx="15.0" ry="15.0" transform="rotate(-0.00 355.0 235.0)" />
<ellipse class="l" cx="350.0" cy="333.0" rx="15.0" ry="15.0" transform="rotate(-0.00 350.0 333.0)" />
<ellipse class="l" cx="270.0" cy="425.0" rx="15.0" ry="15.0" transform="rotate(-0.00 270.0 425.0)" />
<path class="l" d="M175,330 L190,260 M300,230 L320,240 M240,200 L250,180" />
<ellipse class="lw" cx="625.0" cy="531.5" rx="195.6" ry="124.0" transform="rotate(-56.11 625.0 531.5)" style="stroke-width:2.6"/>
<ellipse class="l" cx="630.0" cy="535.0" rx="174.4" ry="102.5" transform="rotate(-55.48 630.0 535.0)" />
<ellipse class="l" cx="660.0" cy="559.0" rx="153.4" ry="94.3" transform="rotate(-60.02 660.0 559.0)" style="stroke-width:2.6"/>
<ellipse class="l" cx="662.5" cy="562.5" rx="128.8" ry="69.8" transform="rotate(-60.81 662.5 562.5)" />
<ellipse cx="639.0" cy="543.5" rx="172.1" ry="100.3" transform="rotate(-56.16 639.0 543.5)" style="fill:none;stroke:#000;stroke-width:6;stroke-dasharray:2 4.5;vector-effect:non-scaling-stroke"/>
<path class="l" d="M746.1,477.7 L731.1,493.0" style="stroke-width:2.2"/>
<path class="l" d="M750.0,508.8 L734.2,518.5" style="stroke-width:2.2"/>
<path class="l" d="M744.2,545.8 L729.5,548.8" style="stroke-width:2.2"/>
<path class="l" d="M729.6,584.6 L717.6,580.6" style="stroke-width:2.2"/>
<path class="l" d="M707.7,620.9 L699.6,610.4" style="stroke-width:2.2"/>
<path class="l" d="M680.9,651.0 L677.6,635.0" style="stroke-width:2.2"/>
<path class="l" d="M652.0,671.3 L653.9,651.7" style="stroke-width:2.2"/>
<path class="l" d="M624.3,679.8 L631.2,658.7" style="stroke-width:2.2"/>
<path class="l" d="M600.7,675.5 L611.9,655.2" style="stroke-width:2.2"/>
<path class="lw" d="M850,590 C810,600 785,640 788,690 C792,730 820,755 860,760 L925,772 C970,775 998,735 995,690 C990,640 960,610 920,605 Z" style="stroke-width:2.6"/>
<ellipse class="l" cx="927.5" cy="700.0" rx="82.8" ry="57.6" transform="rotate(-53.79 927.5 700.0)" style="stroke-width:3"/>
<ellipse class="l" cx="927.5" cy="702.5" rx="69.6" ry="42.6" transform="rotate(-56.12 927.5 702.5)" style="fill:#fbfbfb;stroke-width:2.6"/>
<path d="M895,680 L965,680 M893,695 L967,695 M895,710 L965,710 M900,725 L960,725 M905,740 L955,740" stroke="#444" stroke-width="1.4" vector-effect="non-scaling-stroke"/>
<ellipse cx="1232.5" cy="890.0" rx="298.9" ry="176.7" transform="rotate(-52.93 1232.5 890.0)" style="fill:#fbfbfb;stroke:#000;stroke-width:4.5;stroke-dasharray:1.3 0.9;vector-effect:non-scaling-stroke"/>
<ellipse cx="1232.5" cy="890.0" rx="292.9" ry="170.7" transform="rotate(-52.93 1232.5 890.0)" class="l" style="stroke-width:2.4"/>
<ellipse cx="1232.5" cy="890.0" rx="287.9" ry="165.7" transform="rotate(-52.93 1232.5 890.0)" class="l"/>
<ellipse class="l" cx="1340" cy="720" rx="26" ry="38" transform="rotate(30 1340 720)"/>
<ellipse class="l" cx="1395" cy="765" rx="26" ry="38" transform="rotate(30 1395 765)"/>
<ellipse class="l" cx="1393" cy="855" rx="26" ry="38" transform="rotate(30 1393 855)"/>
<ellipse class="l" cx="1340" cy="965" rx="26" ry="38" transform="rotate(30 1340 965)"/>
<ellipse class="l" cx="1250" cy="1050" rx="26" ry="38" transform="rotate(30 1250 1050)"/>
<ellipse class="l" cx="1160" cy="1075" rx="26" ry="38" transform="rotate(30 1160 1075)"/>
<ellipse class="l" cx="1095" cy="1030" rx="26" ry="38" transform="rotate(30 1095 1030)"/>
<ellipse class="l" cx="1100" cy="930" rx="26" ry="38" transform="rotate(30 1100 930)"/>
<ellipse class="l" cx="1150" cy="825" rx="26" ry="38" transform="rotate(30 1150 825)"/>
<ellipse class="l" cx="1245" cy="745" rx="26" ry="38" transform="rotate(30 1245 745)"/>
<ellipse class="l" cx="1267.5" cy="897.5" rx="132.1" ry="88.7" transform="rotate(-45.00 1267.5 897.5)" />
<ellipse class="l" cx="1260.0" cy="892.5" rx="95.3" ry="64.2" transform="rotate(-47.35 1260.0 892.5)" style="stroke-width:2.8"/>
<path class="l" d="M1240,890 L1290,910 L1330,880 M1260,830 L1240,890" />
</g>

<g transform="translate(880,810) scale(0.25000)">
<ellipse class="lw" cx="169.0" cy="334.0" rx="100.5" ry="62.1" transform="rotate(-48.84 169.0 334.0)" style="stroke-width:2.6"/>
<ellipse class="l" cx="172.5" cy="335.0" rx="92.2" ry="51.8" transform="rotate(-48.32 172.5 335.0)" />
<ellipse class="l" cx="175.0" cy="340.0" rx="66.6" ry="33.0" transform="rotate(-49.52 175.0 340.0)" style="stroke-width:2.4"/>
<ellipse class="l" cx="175.0" cy="340.0" rx="54.4" ry="25.8" transform="rotate(-50.35 175.0 340.0)" />
<path class="lw" d="M400,320 C330,318 265,380 248,450 C235,520 260,575 320,588 L360,590 C430,585 490,520 500,445 C505,385 480,335 430,322 Z" style="stroke-width:2.4"/>
<ellipse class="l" cx="398.5" cy="465.0" rx="143.7" ry="75.4" transform="rotate(-54.59 398.5 465.0)" style="stroke-width:2.4"/>
<ellipse class="l" cx="397.5" cy="467.5" rx="129.8" ry="66.0" transform="rotate(-54.57 397.5 467.5)" />
<ellipse class="l" cx="395.0" cy="465.0" rx="87.4" ry="42.2" transform="rotate(-62.56 395.0 465.0)" style="stroke-width:2.4"/>
<ellipse class="l" cx="396.0" cy="465.0" rx="70.8" ry="33.8" transform="rotate(-63.13 396.0 465.0)" />
<circle cx="455.4" cy="372.2" r="9" style="fill:#333;stroke:none"/>
<circle cx="468.7" cy="393.9" r="9" style="fill:#333;stroke:none"/>
<circle cx="467.4" cy="430.0" r="9" style="fill:#333;stroke:none"/>
<circle cx="451.8" cy="473.3" r="9" style="fill:#333;stroke:none"/>
<circle cx="424.9" cy="515.2" r="9" style="fill:#333;stroke:none"/>
<circle cx="392.1" cy="547.6" r="9" style="fill:#333;stroke:none"/>
<circle cx="359.8" cy="563.8" r="9" style="fill:#333;stroke:none"/>
<circle cx="334.6" cy="560.8" r="9" style="fill:#333;stroke:none"/>
<circle cx="321.3" cy="539.1" r="9" style="fill:#333;stroke:none"/>
<circle cx="322.6" cy="503.0" r="9" style="fill:#333;stroke:none"/>
<circle cx="338.2" cy="459.7" r="9" style="fill:#333;stroke:none"/>
<circle cx="365.1" cy="417.8" r="9" style="fill:#333;stroke:none"/>
<circle cx="397.9" cy="385.4" r="9" style="fill:#333;stroke:none"/>
<circle cx="430.2" cy="369.2" r="9" style="fill:#333;stroke:none"/>
<ellipse class="l" cx="626.5" cy="453.0" rx="32.0" ry="20.4" transform="rotate(35.98 626.5 453.0)" style="stroke-width:2.4"/>
<path class="l" d="M605,448 L650,465"/>
<ellipse class="l" cx="1267.5" cy="730.0" rx="24.0" ry="15.9" transform="rotate(27.99 1267.5 730.0)" style="stroke-width:2.4"/>
<ellipse class="l" cx="1352.5" cy="782.5" rx="23.9" ry="15.5" transform="rotate(26.35 1352.5 782.5)" style="stroke-width:2.4"/>
<path d="M520,555 C515,540 530,525 545,530 L640,575 L610,650 L540,595 C525,585 522,570 520,555 Z" style="fill:#111;stroke:#000;stroke-width:2;vector-effect:non-scaling-stroke"/>
<path d="M528,552 C530,540 545,538 555,545" style="fill:none;stroke:#fbfbfb;stroke-width:2.5;vector-effect:non-scaling-stroke"/>
<path class="lw" d="M790,460 C700,500 620,590 580,690 C545,780 548,880 580,935 C620,990 690,1010 760,1000 L900,600 Z" style="stroke:none"/>
<path class="l" d="M790,458 C700,500 620,590 580,690 C545,780 548,880 580,935 C610,975 650,995 720,1005"/>
<path class="l" d="M782,472 C700,515 632,600 595,700 C565,780 565,870 590,920"/>
<path class="l" d="M575,900 C620,880 650,860 680,820 C700,790 690,760 720,720 L760,680 M610,960 C640,920 680,880 700,840"/>
<path class="l" d="M700,560 C690,600 700,640 720,660 C700,700 690,760 720,780 L760,790"/>
<path class="l" d="M740,620 C760,580 790,560 810,555 L820,640 C800,660 780,680 770,700 Z" style="fill:#fbfbfb"/>
<path class="l" d="M760,600 C770,640 775,680 770,720" style="stroke-width:3"/>
<path class="lw" d="M828,185 C820,300 808,450 805,620 L830,625 C835,480 845,330 860,200 Z" style="stroke:none"/>
<path class="l" d="M828,185 C820,300 808,450 803,620"/>
<path class="l" d="M848,195 C840,300 828,450 822,630"/>
<path class="lw" d="M860,190 L905,190 C915,300 930,420 945,520 L860,520 Z" style="stroke:none"/>
<path class="l" d="M905,192 C915,300 930,420 945,525"/>
<path class="l" d="M935,440 C975,445 1000,490 1005,540"/>
<path class="lw" d="M840,50 C800,60 785,100 792,130 C800,160 830,180 870,190 L905,190 C940,185 958,150 952,115 C945,80 915,60 880,52 Z" style="stroke-width:2.6"/>
<ellipse class="l" cx="904.0" cy="135.0" rx="65.5" ry="43.3" transform="rotate(-48.96 904.0 135.0)" style="stroke-width:2.6"/>
<ellipse class="l" cx="907.5" cy="137.5" rx="44.5" ry="35.1" transform="rotate(-61.05 907.5 137.5)" style="stroke-width:2.4"/>
<path class="lw" d="M1020,537 C1100,525 1170,560 1200,640 C1215,700 1200,780 1170,830 C1140,890 1090,960 1045,990 C1000,1025 920,1070 870,1065 C820,1062 770,1040 750,1015 C735,990 732,940 735,900 C738,860 745,800 770,740 C790,690 820,640 880,590 C920,560 970,540 1020,537 Z" style="stroke-width:2.4"/>
<path class="l" d="M1005,537 C950,540 890,570 850,610 C800,660 765,720 750,780 C735,840 725,920 730,980 C735,1010 755,1035 780,1050"/>
<path class="l" d="M960,545 L955,548 C920,555 900,560 890,570 M870,590 L830,650 L830,760"/>
<path class="l" d="M900,560 C930,550 950,540 990,540" />
<ellipse class="l" cx="975.0" cy="682.5" rx="76.4" ry="48.2" transform="rotate(-52.91 975.0 682.5)" style="stroke-width:2.4"/>
<ellipse class="l" cx="972.5" cy="684.0" rx="37.8" ry="22.1" transform="rotate(-57.59 972.5 684.0)" />
<ellipse class="l" cx="972.0" cy="684.0" rx="27.7" ry="14.5" transform="rotate(-54.22 972.0 684.0)" />
<circle cx="1045" cy="720" r="5" fill="#000"/><circle cx="888" cy="892" r="5" fill="#000"/>
</g>
<g transform="translate(1000,820) scale(0.16250)">
<path class="lw" d="M680,1120 C700,1085 760,1075 800,1080 L870,1090 C900,1110 920,1150 950,1175 L1000,1200 L1010,1230 L1060,1255 L1180,1370 C1200,1395 1195,1440 1165,1445 C1150,1447 1140,1440 1130,1430 L1040,1400 L1000,1380 L930,1350 L820,1320 L760,1310 C700,1300 670,1250 670,1200 C668,1160 672,1135 680,1120 Z" style="stroke-width:2.4"/>
<ellipse class="l" cx="734.0" cy="1206.5" rx="116.0" ry="51.8" transform="rotate(-66.76 734.0 1206.5)" style="stroke-width:2.4"/>
<ellipse class="l" cx="765.0" cy="1208.5" rx="111.0" ry="51.1" transform="rotate(-65.92 765.0 1208.5)" style="stroke-width:1.8"/>
<path d="M820,1170 C835,1160 850,1165 860,1175 L880,1320 C865,1335 840,1335 830,1325 Z" fill="#111"/>
<path d="M895,1185 L925,1195 L940,1345 L910,1340 Z" fill="#111"/>
<path class="l" d="M960,1210 C975,1240 990,1300 1000,1380 M1010,1240 L1040,1270 M1000,1300 L1050,1290"/>
<path d="M1040,1330 L1110,1330 L1170,1385 L1150,1440 L1050,1405 Z" fill="#111"/>
<ellipse class="l" cx="1162.0" cy="1410.5" rx="44.4" ry="24.4" transform="rotate(-50.25 1162.0 1410.5)" style="fill:#fbfbfb;stroke-width:2.4"/>
</g>
<g transform="translate(860,1010) scale(0.20000)">
<path class="l" d="M235,575 L50,690 L1270,1390 L1470,1290" style="stroke-width:2"/>
<path class="l" d="M560,1070 L630,1040" style="stroke-width:2"/>
<ellipse class="l" cx="370.0" cy="628.5" rx="138.6" ry="75.1" transform="rotate(-57.29 370.0 628.5)" style="stroke-width:2.6"/>
<ellipse class="l" cx="371.5" cy="630.0" rx="94.9" ry="51.5" transform="rotate(-58.10 371.5 630.0)" style="stroke-width:2.4"/>
<path class="lw" d="M520,205 L640,240 L690,650 L500,720 Z" style="stroke:none"/>
<path class="l" d="M525,205 C515,350 505,500 492,720" style="stroke-width:3"/>
<path class="l" d="M548,215 C540,360 530,520 515,730" style="stroke-width:3"/>
<path class="l" d="M640,240 C650,380 665,520 680,650"/>
<path class="lw" d="M545,68 C505,75 485,110 490,150 C495,185 525,215 570,232 L610,240 C660,240 690,205 685,160 C680,115 640,85 600,72 Z" style="stroke-width:2.6"/>
<ellipse class="l" cx="626.5" cy="171.0" rx="78.7" ry="51.3" transform="rotate(-55.33 626.5 171.0)" style="stroke-width:2.6"/>
<ellipse class="l" cx="625.0" cy="175.0" rx="54.1" ry="34.3" transform="rotate(-60.48 625.0 175.0)" style="stroke-width:2.4"/>
<path class="l" d="M520,100 C560,90 590,95 600,100" />
<path class="lw" d="M470,690 C440,720 430,800 450,850 C470,890 520,910 570,912 L600,910 L560,650 Z" style="stroke-width:2.6"/>
<ellipse class="lw" cx="631.5" cy="776.0" rx="151.9" ry="94.8" transform="rotate(-55.23 631.5 776.0)" style="stroke-width:2.6"/>
<ellipse class="l" cx="632.5" cy="781.5" rx="117.9" ry="71.4" transform="rotate(-57.39 632.5 781.5)" style="stroke-width:2.4"/>
<path class="l" d="M560,690 C620,640 660,640 680,650"/>
<path d="M711,892 C705,840 745,790 792,774 L836,774 C860,778 880,786 890.6,798 C912,815 930,830 932,848 C938,870 936,890 934,903 C930,925 925,945 912.5,957.8 C900,975 885,992 868.7,1001.5 C855,1006 840,1007 825,1006 C805,1000 785,995 770,986 C745,972 725,962 722,947 C715,930 712,910 711,892 Z" fill="#111" stroke="#000" stroke-width="2" vector-effect="non-scaling-stroke"/>
<ellipse class="l" cx="860.0" cy="907.5" rx="101.3" ry="54.1" transform="rotate(-53.45 860.0 907.5)" style="stroke:#fbfbfb;stroke-width:1.3"/>
<path d="M798.7,789.4 L842.5,813.4" style="stroke:#fbfbfb;stroke-width:2;stroke-linecap:round;vector-effect:non-scaling-stroke"/>
<path d="M774.7,806.9 L818.4,830.9" style="stroke:#fbfbfb;stroke-width:2;stroke-linecap:round;vector-effect:non-scaling-stroke"/>
<path d="M759.4,826.5 L792.2,841.9" style="stroke:#fbfbfb;stroke-width:2;stroke-linecap:round;vector-effect:non-scaling-stroke"/>
<path d="M737.5,859.4 L781.2,883.4" style="stroke:#fbfbfb;stroke-width:2;stroke-linecap:round;vector-effect:non-scaling-stroke"/>
<path d="M728.7,890 L770.3,911.8" style="stroke:#fbfbfb;stroke-width:2;stroke-linecap:round;vector-effect:non-scaling-stroke"/>
<path d="M722.2,916.2 L772.5,946.8" style="stroke:#fbfbfb;stroke-width:2;stroke-linecap:round;vector-effect:non-scaling-stroke"/>
<path d="M730.9,942.5 L772.5,966.5" style="stroke:#fbfbfb;stroke-width:2;stroke-linecap:round;vector-effect:non-scaling-stroke"/>
<path d="M875.3,841.9 L905.9,855" style="stroke:#fbfbfb;stroke-width:2;stroke-linecap:round;vector-effect:non-scaling-stroke"/>
<path d="M862.1,863.7 L910.3,885.6" style="stroke:#fbfbfb;stroke-width:2;stroke-linecap:round;vector-effect:non-scaling-stroke"/>
<path d="M853.4,890 L899.3,916.2" style="stroke:#fbfbfb;stroke-width:2;stroke-linecap:round;vector-effect:non-scaling-stroke"/>
<path d="M835.9,920.6 L884,942.5" style="stroke:#fbfbfb;stroke-width:2;stroke-linecap:round;vector-effect:non-scaling-stroke"/>
<path d="M811.8,942.5 L862.1,968.7" style="stroke:#fbfbfb;stroke-width:2;stroke-linecap:round;vector-effect:non-scaling-stroke"/>
<path d="M803.1,964.3 L838.1,981.8" style="stroke:#fbfbfb;stroke-width:2;stroke-linecap:round;vector-effect:non-scaling-stroke"/>
<ellipse class="l" cx="1009.0" cy="1001.0" rx="129.2" ry="88.1" transform="rotate(-61.41 1009.0 1001.0)" style="stroke-width:2.6"/>
<ellipse class="l" cx="1011.5" cy="1004.0" rx="88.2" ry="60.8" transform="rotate(-65.14 1011.5 1004.0)" style="stroke-width:2.4"/>
<path class="lw" d="M1140,1000 C1100,1000 1085,1040 1090,1090 C1092,1120 1110,1140 1130,1150 L1340,1280 C1390,1300 1440,1260 1440,1200 C1440,1165 1420,1145 1400,1135 L1170,1010 C1160,1003 1150,1000 1140,1000 Z" style="stroke-width:2.6"/>
<ellipse class="l" cx="1385.0" cy="1216.0" rx="82.4" ry="47.2" transform="rotate(-61.81 1385.0 1216.0)" style="stroke-width:2.6"/>
<ellipse class="l" cx="1381.0" cy="1217.5" rx="39.6" ry="24.1" transform="rotate(-51.68 1381.0 1217.5)" style="stroke-width:2.6"/>
</g>

<g transform="translate(480,1190) scale(0.20000)">
<ellipse class="lw" cx="125.0" cy="265.0" rx="85.7" ry="49.5" transform="rotate(-45.00 125.0 265.0)" style="stroke-width:3"/>
<ellipse class="l" cx="137.5" cy="267.5" rx="73.2" ry="43.1" transform="rotate(-49.95 137.5 267.5)" style="stroke-width:2.4"/>
<ellipse class="l" cx="140.0" cy="270.0" rx="49.1" ry="29.0" transform="rotate(-60.33 140.0 270.0)" style="stroke-width:2.2;fill:#ccc"/>
<path class="l" d="M110,260 L150,240 M115,285 L165,280" style="stroke-width:2"/>
<ellipse class="lw" cx="389.4" cy="419.0" rx="134.7" ry="86.9" transform="rotate(-52.22 389.4 419.0)" style="stroke-width:2.4"/>
<ellipse class="lw" cx="419.9" cy="422.6" rx="124.3" ry="75.0" transform="rotate(-62.20 419.9 422.6)" style="stroke-width:2.4"/>
<ellipse class="l" cx="421.0" cy="423.8" rx="107.2" ry="65.0" transform="rotate(-62.93 421.0 423.8)" style="stroke-width:2"/>
<ellipse class="l" cx="422.1" cy="419.0" rx="68.5" ry="33.1" transform="rotate(-66.71 422.1 419.0)" style="stroke-width:2.2"/>
<ellipse class="l" cx="422.1" cy="419.0" rx="50.2" ry="24.7" transform="rotate(-68.69 422.1 419.0)" style="stroke-width:1.8"/>
<circle cx="473.2" cy="333.6" r="6.3" style="fill:none;stroke:#000;stroke-width:1.5;vector-effect:non-scaling-stroke"/>
<circle cx="491.9" cy="359.8" r="6.3" style="fill:none;stroke:#000;stroke-width:1.5;vector-effect:non-scaling-stroke"/>
<circle cx="492.2" cy="402.0" r="6.3" style="fill:none;stroke:#000;stroke-width:1.5;vector-effect:non-scaling-stroke"/>
<circle cx="474.0" cy="448.7" r="6.3" style="fill:none;stroke:#000;stroke-width:1.5;vector-effect:non-scaling-stroke"/>
<circle cx="442.3" cy="487.4" r="6.3" style="fill:none;stroke:#000;stroke-width:1.5;vector-effect:non-scaling-stroke"/>
<circle cx="405.4" cy="507.8" r="6.3" style="fill:none;stroke:#000;stroke-width:1.5;vector-effect:non-scaling-stroke"/>
<circle cx="373.3" cy="504.4" r="6.3" style="fill:none;stroke:#000;stroke-width:1.5;vector-effect:non-scaling-stroke"/>
<circle cx="354.6" cy="478.2" r="6.3" style="fill:none;stroke:#000;stroke-width:1.5;vector-effect:non-scaling-stroke"/>
<circle cx="354.3" cy="436.0" r="6.3" style="fill:none;stroke:#000;stroke-width:1.5;vector-effect:non-scaling-stroke"/>
<circle cx="372.5" cy="389.3" r="6.3" style="fill:none;stroke:#000;stroke-width:1.5;vector-effect:non-scaling-stroke"/>
<circle cx="404.2" cy="350.6" r="6.3" style="fill:none;stroke:#000;stroke-width:1.5;vector-effect:non-scaling-stroke"/>
<circle cx="441.1" cy="330.2" r="6.3" style="fill:none;stroke:#000;stroke-width:1.5;vector-effect:non-scaling-stroke"/>
<ellipse class="lw" cx="1298.1" cy="941.5" rx="128.3" ry="88.0" transform="rotate(-54.88 1298.1 941.5)" style="stroke-width:2.4"/>
<ellipse class="lw" cx="1327.4" cy="945.0" rx="119.0" ry="76.0" transform="rotate(-65.96 1327.4 945.0)" style="stroke-width:2.4"/>
<ellipse class="l" cx="1328.5" cy="946.2" rx="102.4" ry="66.2" transform="rotate(-67.32 1328.5 946.2)" style="stroke-width:2"/>
<ellipse class="l" cx="1329.5" cy="941.5" rx="66.9" ry="31.8" transform="rotate(-67.35 1329.5 941.5)" style="stroke-width:2.2"/>
<ellipse class="l" cx="1329.5" cy="941.5" rx="49.0" ry="23.8" transform="rotate(-69.29 1329.5 941.5)" style="stroke-width:1.8"/>
<circle cx="1377.8" cy="857.4" r="6.1" style="fill:none;stroke:#000;stroke-width:1.5;vector-effect:non-scaling-stroke"/>
<circle cx="1396.2" cy="882.6" r="6.1" style="fill:none;stroke:#000;stroke-width:1.5;vector-effect:non-scaling-stroke"/>
<circle cx="1397.1" cy="923.5" r="6.1" style="fill:none;stroke:#000;stroke-width:1.5;vector-effect:non-scaling-stroke"/>
<circle cx="1380.1" cy="969.3" r="6.1" style="fill:none;stroke:#000;stroke-width:1.5;vector-effect:non-scaling-stroke"/>
<circle cx="1349.9" cy="1007.6" r="6.1" style="fill:none;stroke:#000;stroke-width:1.5;vector-effect:non-scaling-stroke"/>
<circle cx="1314.5" cy="1028.2" r="6.1" style="fill:none;stroke:#000;stroke-width:1.5;vector-effect:non-scaling-stroke"/>
<circle cx="1283.4" cy="1025.6" r="6.1" style="fill:none;stroke:#000;stroke-width:1.5;vector-effect:non-scaling-stroke"/>
<circle cx="1265.0" cy="1000.4" r="6.1" style="fill:none;stroke:#000;stroke-width:1.5;vector-effect:non-scaling-stroke"/>
<circle cx="1264.2" cy="959.5" r="6.1" style="fill:none;stroke:#000;stroke-width:1.5;vector-effect:non-scaling-stroke"/>
<circle cx="1281.2" cy="913.7" r="6.1" style="fill:none;stroke:#000;stroke-width:1.5;vector-effect:non-scaling-stroke"/>
<circle cx="1311.4" cy="875.4" r="6.1" style="fill:none;stroke:#000;stroke-width:1.5;vector-effect:non-scaling-stroke"/>
<circle cx="1346.8" cy="854.8" r="6.1" style="fill:none;stroke:#000;stroke-width:1.5;vector-effect:non-scaling-stroke"/>
<path class="lw" d="M900,350 C870,350 860,400 880,425 L1090,500 L1130,440 L930,350 Z" style="stroke-width:2.4"/>
<path class="l" d="M930,355 C915,375 915,410 930,435" style="stroke-width:2.4"/>
<path class="l" d="M980,380 C965,400 965,435 980,460 M990,385 L1110,450" style="stroke-width:2.4"/>
<path class="lw" d="M915,495 L1030,475 L1050,635 L925,665 C910,645 910,515 915,495 Z" style="stroke-width:2.4"/>
<path class="l" d="M955,490 L965,660" style="stroke-width:2"/>
<ellipse cx="1211.5" cy="564.0" rx="223.9" ry="126.8" transform="rotate(-50.36 1211.5 564.0)" style="fill:#fbfbfb;stroke:#000;stroke-width:7.5;stroke-dasharray:4 2.4;vector-effect:non-scaling-stroke"/>
<ellipse cx="1211.5" cy="564.0" rx="202.9" ry="105.8" transform="rotate(-50.36 1211.5 564.0)" class="l" style="stroke-width:2.2"/>
<ellipse class="l" cx="1318.9" cy="487.4" rx="23.8" ry="23.9" transform="rotate(-45.4 1318.9 487.4)" style="stroke-width:2"/>
<ellipse class="l" cx="1307.5" cy="578.3" rx="23.8" ry="23.9" transform="rotate(-45.4 1307.5 578.3)" style="stroke-width:2"/>
<ellipse class="l" cx="1231.3" cy="662.2" rx="23.8" ry="23.9" transform="rotate(-45.4 1231.3 662.2)" style="stroke-width:2"/>
<ellipse class="l" cx="1147.8" cy="675.9" rx="23.8" ry="23.9" transform="rotate(-45.4 1147.8 675.9)" style="stroke-width:2"/>
<ellipse class="l" cx="1119.8" cy="609.2" rx="23.8" ry="23.9" transform="rotate(-45.4 1119.8 609.2)" style="stroke-width:2"/>
<ellipse class="l" cx="1168.3" cy="512.1" rx="23.8" ry="23.9" transform="rotate(-45.4 1168.3 512.1)" style="stroke-width:2"/>
<ellipse class="l" cx="1256.9" cy="457.9" rx="23.8" ry="23.9" transform="rotate(-45.4 1256.9 457.9)" style="stroke-width:2"/>
<ellipse class="l" cx="1231.5" cy="574.0" rx="66.6" ry="42.2" transform="rotate(-50.36 1231.5 574.0)" style="stroke-width:2.4"/>
<ellipse class="l" cx="1239.5" cy="578.0" rx="30.9" ry="21.1" transform="rotate(-50.36 1239.5 578.0)" style="stroke-width:2.4"/>
<ellipse class="l" cx="1241.5" cy="579.0" rx="11.9" ry="8.4" transform="rotate(-50.36 1241.5 579.0)" style="stroke-width:2"/>
<path class="lw" d="M340,678 C310,678 300,728 320,753 L520,815 L560,755 L370,678 Z" style="stroke-width:2.4"/>
<path class="l" d="M370,683 C355,703 355,738 370,763" style="stroke-width:2.4"/>
<path class="l" d="M420,708 C405,728 405,763 420,788 M430,713 L540,765" style="stroke-width:2.4"/>
<path class="lw" d="M352,820 L480,800 L500,960 L362,990 C347,970 347,840 352,820 Z" style="stroke-width:2.4"/>
<path class="l" d="M392,815 L402,985" style="stroke-width:2"/>
<ellipse cx="650.0" cy="886.0" rx="234.6" ry="112.3" transform="rotate(-49.45 650.0 886.0)" style="fill:#fbfbfb;stroke:#000;stroke-width:7.5;stroke-dasharray:4 2.4;vector-effect:non-scaling-stroke"/>
<ellipse cx="650.0" cy="886.0" rx="213.6" ry="91.3" transform="rotate(-49.45 650.0 886.0)" class="l" style="stroke-width:2.2"/>
<ellipse class="l" cx="760.5" cy="805.1" rx="24.9" ry="21.5" transform="rotate(-44.4 760.5 805.1)" style="stroke-width:2"/>
<ellipse class="l" cx="741.6" cy="895.2" rx="24.9" ry="21.5" transform="rotate(-44.4 741.6 895.2)" style="stroke-width:2"/>
<ellipse class="l" cx="661.2" cy="982.1" rx="24.9" ry="21.5" transform="rotate(-44.4 661.2 982.1)" style="stroke-width:2"/>
<ellipse class="l" cx="579.9" cy="1000.5" rx="24.9" ry="21.5" transform="rotate(-44.4 579.9 1000.5)" style="stroke-width:2"/>
<ellipse class="l" cx="558.9" cy="936.4" rx="24.9" ry="21.5" transform="rotate(-44.4 558.9 936.4)" style="stroke-width:2"/>
<ellipse class="l" cx="614.1" cy="838.1" rx="24.9" ry="21.5" transform="rotate(-44.4 614.1 838.1)" style="stroke-width:2"/>
<ellipse class="l" cx="703.8" cy="779.7" rx="24.9" ry="21.5" transform="rotate(-44.4 703.8 779.7)" style="stroke-width:2"/>
<ellipse class="l" cx="670.0" cy="896.0" rx="69.6" ry="37.9" transform="rotate(-49.45 670.0 896.0)" style="stroke-width:2.4"/>
<ellipse class="l" cx="678.0" cy="900.0" rx="32.3" ry="18.9" transform="rotate(-49.45 678.0 900.0)" style="stroke-width:2.4"/>
<ellipse class="l" cx="680.0" cy="901.0" rx="12.4" ry="7.6" transform="rotate(-49.45 680.0 901.0)" style="stroke-width:2"/>
</g>

<g transform="translate(1160,990) scale(0.14999)">
<ellipse cx="432.5" cy="532.5" rx="302.0" ry="193.2" transform="rotate(-53.14 432.5 532.5)" style="fill:#fbfbfb;stroke:#000;stroke-width:8;stroke-dasharray:3.6 2;vector-effect:non-scaling-stroke"/>
<ellipse cx="432.5" cy="532.5" rx="270.0" ry="161.2" transform="rotate(-53.14 432.5 532.5)" class="l" style="stroke-width:2.4"/>
<ellipse cx="574.7" cy="342.8" rx="16" ry="30" transform="rotate(-53.1 574.7 342.8)" class="l" style="stroke-width:2.8"/>
<ellipse cx="599.4" cy="375.9" rx="16" ry="30" transform="rotate(-35.1 599.4 375.9)" class="l" style="stroke-width:2.8"/>
<ellipse cx="607.8" cy="424.3" rx="16" ry="30" transform="rotate(-17.1 607.8 424.3)" class="l" style="stroke-width:2.8"/>
<ellipse cx="599.0" cy="483.2" rx="16" ry="30" transform="rotate(0.9 599.0 483.2)" class="l" style="stroke-width:2.8"/>
<ellipse cx="574.0" cy="547.0" rx="16" ry="30" transform="rotate(18.9 574.0 547.0)" class="l" style="stroke-width:2.8"/>
<ellipse cx="535.1" cy="609.4" rx="16" ry="30" transform="rotate(36.9 535.1 609.4)" class="l" style="stroke-width:2.8"/>
<ellipse cx="486.1" cy="664.2" rx="16" ry="30" transform="rotate(54.9 486.1 664.2)" class="l" style="stroke-width:2.8"/>
<ellipse cx="431.9" cy="706.2" rx="16" ry="30" transform="rotate(72.9 431.9 706.2)" class="l" style="stroke-width:2.8"/>
<ellipse cx="377.8" cy="731.1" rx="16" ry="30" transform="rotate(90.9 377.8 731.1)" class="l" style="stroke-width:2.8"/>
<ellipse cx="329.0" cy="736.6" rx="16" ry="30" transform="rotate(108.9 329.0 736.6)" class="l" style="stroke-width:2.8"/>
<ellipse cx="290.3" cy="722.2" rx="16" ry="30" transform="rotate(126.9 290.3 722.2)" class="l" style="stroke-width:2.8"/>
<ellipse cx="265.6" cy="689.1" rx="16" ry="30" transform="rotate(144.9 265.6 689.1)" class="l" style="stroke-width:2.8"/>
<ellipse cx="257.2" cy="640.7" rx="16" ry="30" transform="rotate(162.9 257.2 640.7)" class="l" style="stroke-width:2.8"/>
<ellipse cx="266.0" cy="581.8" rx="16" ry="30" transform="rotate(180.9 266.0 581.8)" class="l" style="stroke-width:2.8"/>
<ellipse cx="291.0" cy="518.0" rx="16" ry="30" transform="rotate(198.9 291.0 518.0)" class="l" style="stroke-width:2.8"/>
<ellipse cx="329.9" cy="455.6" rx="16" ry="30" transform="rotate(216.9 329.9 455.6)" class="l" style="stroke-width:2.8"/>
<ellipse cx="378.9" cy="400.8" rx="16" ry="30" transform="rotate(234.9 378.9 400.8)" class="l" style="stroke-width:2.8"/>
<ellipse cx="433.1" cy="358.8" rx="16" ry="30" transform="rotate(252.9 433.1 358.8)" class="l" style="stroke-width:2.8"/>
<ellipse cx="487.2" cy="333.9" rx="16" ry="30" transform="rotate(270.9 487.2 333.9)" class="l" style="stroke-width:2.8"/>
<ellipse cx="536.0" cy="328.4" rx="16" ry="30" transform="rotate(288.9 536.0 328.4)" class="l" style="stroke-width:2.8"/>
<ellipse class="l" cx="447.5" cy="545.0" rx="152.2" ry="79.9" transform="rotate(-52.32 447.5 545.0)" style="stroke-width:2.6"/>
<ellipse class="l" cx="440.0" cy="547.5" rx="132.2" ry="66.5" transform="rotate(-57.95 440.0 547.5)" />
<path d="M785,505 C770,515 772,535 790,545 L860,595 L905,560 L810,500 C800,497 792,500 785,505 Z" fill="#111" stroke="#000" stroke-width="2" vector-effect="non-scaling-stroke"/>
<ellipse class="l" cx="890.0" cy="585.0" rx="51.4" ry="31.4" transform="rotate(-37.56 890.0 585.0)" style="fill:#fbfbfb;stroke-width:3"/>
<ellipse class="l" cx="895.0" cy="592.5" rx="28.3" ry="18.2" transform="rotate(-37.61 895.0 592.5)" style="fill:#222;stroke-width:1"/>
<path d="M600,845 C585,855 588,875 605,885 L680,935 L720,900 L625,840 C615,837 607,840 600,845 Z" fill="#111" stroke="#000" stroke-width="2" vector-effect="non-scaling-stroke"/>
<ellipse class="l" cx="705.0" cy="920.0" rx="49.0" ry="28.3" transform="rotate(-45.00 705.0 920.0)" style="fill:#fbfbfb;stroke-width:3"/>
<ellipse class="l" cx="710.0" cy="925.0" rx="30.4" ry="18.0" transform="rotate(-45.00 710.0 925.0)" style="fill:#222;stroke-width:1"/>
<ellipse class="l" cx="999.0" cy="355.0" rx="37.0" ry="21.0" transform="rotate(-87.72 999.0 355.0)" style="fill:#222;stroke-width:2"/>
<ellipse class="l" cx="579.0" cy="1007.5" rx="33.4" ry="19.6" transform="rotate(-73.81 579.0 1007.5)" style="fill:#222;stroke-width:2"/>
<path class="l" d="M855,625 L855,680 M775,835 L735,880 M860,510 L980,390 M1030,310 L1165,178 L560,178 M575,1040 L525,1170 L0,1170" style="stroke-width:1.8"/>
<ellipse class="l" cx="1067.5" cy="895.0" rx="188.8" ry="117.8" transform="rotate(-61.26 1067.5 895.0)" style="stroke-width:2.8"/>
<ellipse class="l" cx="1070.0" cy="897.5" rx="125.3" ry="77.4" transform="rotate(-55.99 1070.0 897.5)" style="stroke-width:2.6"/>
</g>

<g transform="translate(1320,880) scale(0.26247)">
<path class="lw" d="M230,915 C160,915 90,980 72,1060 C60,1120 85,1160 130,1170 L170,1172 C250,1165 305,1090 310,1010 C312,955 285,920 240,915 Z" style="stroke-width:2.4"/>
<ellipse class="l" cx="212.0" cy="1056.0" rx="134.6" ry="73.1" transform="rotate(-52.85 212.0 1056.0)" style="stroke-width:2.6"/>
<ellipse class="l" cx="212.5" cy="1057.5" rx="119.0" ry="63.3" transform="rotate(-53.16 212.5 1057.5)" />
<ellipse class="l" cx="215.0" cy="1060.0" rx="75.1" ry="47.7" transform="rotate(-61.90 215.0 1060.0)" style="stroke-width:2.4"/>
<ellipse class="l" cx="216.0" cy="1060.0" rx="63.8" ry="40.6" transform="rotate(-63.85 216.0 1060.0)" />
<circle cx="270.3" cy="973.7" r="9" style="fill:#333;stroke:none"/>
<circle cx="285.5" cy="995.9" r="9" style="fill:#333;stroke:none"/>
<circle cx="286.7" cy="1030.6" r="9" style="fill:#333;stroke:none"/>
<circle cx="273.4" cy="1070.9" r="9" style="fill:#333;stroke:none"/>
<circle cx="248.3" cy="1108.9" r="9" style="fill:#333;stroke:none"/>
<circle cx="216.5" cy="1137.0" r="9" style="fill:#333;stroke:none"/>
<circle cx="184.2" cy="1149.6" r="9" style="fill:#333;stroke:none"/>
<circle cx="157.7" cy="1144.3" r="9" style="fill:#333;stroke:none"/>
<circle cx="142.5" cy="1122.1" r="9" style="fill:#333;stroke:none"/>
<circle cx="141.3" cy="1087.4" r="9" style="fill:#333;stroke:none"/>
<circle cx="154.6" cy="1047.1" r="9" style="fill:#333;stroke:none"/>
<circle cx="179.7" cy="1009.1" r="9" style="fill:#333;stroke:none"/>
<circle cx="211.5" cy="981.0" r="9" style="fill:#333;stroke:none"/>
<circle cx="243.8" cy="968.4" r="9" style="fill:#333;stroke:none"/>
<path class="l" d="M305,380 C315,500 322,650 330,800 C335,950 338,1100 345,1230" style="stroke-width:2.4"/>
<path class="l" d="M322,385 C330,520 338,660 345,800 C350,950 352,1090 360,1200"/>
<path class="l" d="M520,345 C470,420 425,520 405,640 C392,760 395,900 420,990 C440,1050 470,1090 490,1110" style="stroke-width:2.4"/>
<path class="l" d="M535,360 C488,440 445,540 428,650 C415,770 418,900 440,985 C458,1040 480,1075 495,1095"/>
<path d="M305,600 L340,600 L348,790 L318,790 Z" fill="#111"/>
<path d="M312,620 C322,610 338,610 344,620" style="fill:none;stroke:#fbfbfb;stroke-width:1.5;vector-effect:non-scaling-stroke"/>
<path d="M312,650 C322,640 338,640 344,650" style="fill:none;stroke:#fbfbfb;stroke-width:1.5;vector-effect:non-scaling-stroke"/>
<path d="M312,680 C322,670 338,670 344,680" style="fill:none;stroke:#fbfbfb;stroke-width:1.5;vector-effect:non-scaling-stroke"/>
<path d="M312,710 C322,700 338,700 344,710" style="fill:none;stroke:#fbfbfb;stroke-width:1.5;vector-effect:non-scaling-stroke"/>
<path d="M312,740 C322,730 338,730 344,740" style="fill:none;stroke:#fbfbfb;stroke-width:1.5;vector-effect:non-scaling-stroke"/>
<path d="M312,770 C322,760 338,760 344,770" style="fill:none;stroke:#fbfbfb;stroke-width:1.5;vector-effect:non-scaling-stroke"/>
<ellipse cx="452.5" cy="241.0" rx="195.8" ry="90.8" transform="rotate(-50.36 452.5 241.0)" style="fill:#fbfbfb;stroke:#000;stroke-width:6;stroke-dasharray:2.5 2.5;vector-effect:non-scaling-stroke"/>
<ellipse cx="452.5" cy="241.0" rx="180.8" ry="75.8" transform="rotate(-50.36 452.5 241.0)" class="l" style="stroke-width:2.4"/>
<ellipse class="l" cx="455" cy="245" rx="45" ry="58" transform="rotate(25 455 245)" style="stroke-width:2.6"/>
<ellipse class="l" cx="525" cy="140" rx="20" ry="32" transform="rotate(30 525 140)" style="stroke-width:2.4"/>
<ellipse class="l" cx="545" cy="200" rx="20" ry="32" transform="rotate(30 545 200)" style="stroke-width:2.4"/>
<ellipse class="l" cx="500" cy="290" rx="20" ry="32" transform="rotate(30 500 290)" style="stroke-width:2.4"/>
<ellipse class="l" cx="385" cy="345" rx="20" ry="32" transform="rotate(30 385 345)" style="stroke-width:2.4"/>
<ellipse class="l" cx="355" cy="285" rx="20" ry="32" transform="rotate(30 355 285)" style="stroke-width:2.4"/>
<ellipse class="l" cx="400" cy="195" rx="20" ry="32" transform="rotate(30 400 195)" style="stroke-width:2.4"/>
<ellipse class="l" cx="455" cy="150" rx="20" ry="32" transform="rotate(30 455 150)" style="stroke-width:2.4"/>
<circle cx="440" cy="325" r="9" fill="#000"/>
<ellipse class="lw" cx="420.0" cy="1170.0" rx="106.7" ry="49.4" transform="rotate(-50.34 420.0 1170.0)" style="stroke-width:5;stroke-dasharray:2.5 2"/>
<ellipse class="l" cx="422.5" cy="1170.0" rx="62.7" ry="36.7" transform="rotate(-53.63 422.5 1170.0)" style="stroke-width:3"/>
<ellipse class="l" cx="425.0" cy="1170.0" rx="44.7" ry="26.3" transform="rotate(-56.53 425.0 1170.0)" />
<path class="l" d="M545,1290 C510,1290 495,1260 510,1230 C525,1200 560,1190 578,1200 C595,1212 588,1245 575,1265 C565,1280 555,1288 545,1290" style="stroke-width:2.4"/>
<path class="l" d="M520,1280 L535,1295 M548,1278 L560,1292"/>
<ellipse class="l" cx="646.0" cy="1301.0" rx="55.3" ry="28.7" transform="rotate(-49.53 646.0 1301.0)" style="stroke-width:2.4"/>
<ellipse class="l" cx="646.0" cy="1301.5" rx="31.9" ry="16.2" transform="rotate(-49.83 646.0 1301.5)" style="stroke-width:2.2"/>
<ellipse class="l" cx="758.5" cy="1366.0" rx="67.8" ry="34.5" transform="rotate(-45.45 758.5 1366.0)" style="fill:#fbfbfb;stroke-width:3"/>
<ellipse class="l" cx="768.0" cy="1375.0" rx="49.8" ry="26.8" transform="rotate(-45.00 768.0 1375.0)" style="fill:#111;stroke-width:2"/>
<path d="M740,1360 C750,1345 770,1345 780,1352" style="fill:none;stroke:#fbfbfb;stroke-width:2.5;vector-effect:non-scaling-stroke"/>
</g>

<circle cx="1166" cy="250.4" r="13.3" style="fill:#fbfbfb;stroke:#000;stroke-width:3"/>
<text x="1166" y="258.8" class="t" style="font-size:23.5px" textLength="20.5" lengthAdjust="spacingAndGlyphs">42</text>
<circle cx="1166" cy="285.5" r="13.3" style="fill:#fbfbfb;stroke:#000;stroke-width:3"/>
<text x="1166" y="293.9" class="t" style="font-size:23.5px" textLength="20.5" lengthAdjust="spacingAndGlyphs">41</text>
<circle cx="1016" cy="320.5" r="13.3" style="fill:#fbfbfb;stroke:#000;stroke-width:3"/>
<text x="1016" y="328.9" class="t" style="font-size:23.5px" textLength="20.5" lengthAdjust="spacingAndGlyphs">34</text>
<circle cx="1243" cy="431" r="13.3" style="fill:#fbfbfb;stroke:#000;stroke-width:3"/>
<text x="1243" y="439.4" class="t" style="font-size:23.5px" textLength="20.5" lengthAdjust="spacingAndGlyphs">34</text>
<circle cx="1152.5" cy="457.5" r="13.3" style="fill:#fbfbfb;stroke:#000;stroke-width:3"/>
<text x="1152.5" y="465.9" class="t" style="font-size:23.5px" textLength="20.5" lengthAdjust="spacingAndGlyphs">33</text>
<circle cx="1227" cy="539.5" r="13.3" style="fill:#fbfbfb;stroke:#000;stroke-width:3"/>
<text x="1227" y="547.9" class="t" style="font-size:23.5px" textLength="20.5" lengthAdjust="spacingAndGlyphs">40</text>
<circle cx="866.2" cy="561" r="13.3" style="fill:#fbfbfb;stroke:#000;stroke-width:3"/>
<text x="866.2" y="569.4" class="t" style="font-size:23.5px" textLength="20.5" lengthAdjust="spacingAndGlyphs">17</text>
<circle cx="943.7" cy="550.6" r="13.3" style="fill:#fbfbfb;stroke:#000;stroke-width:3"/>
<text x="943.7" y="559.0" class="t" style="font-size:23.5px" textLength="20.5" lengthAdjust="spacingAndGlyphs">15</text>
<circle cx="962.8" cy="615.3" r="13.3" style="fill:#fbfbfb;stroke:#000;stroke-width:3"/>
<text x="962.8" y="623.7" class="t" style="font-size:23.5px" textLength="20.5" lengthAdjust="spacingAndGlyphs">14</text>
<circle cx="977.4" cy="684.7" r="13.3" style="fill:#fbfbfb;stroke:#000;stroke-width:3"/>
<text x="977.4" y="693.1" class="t" style="font-size:23.5px" textLength="20.5" lengthAdjust="spacingAndGlyphs">13</text>
<circle cx="1047" cy="902.5" r="13.3" style="fill:#fbfbfb;stroke:#000;stroke-width:3"/>
<text x="1047" y="910.9" class="t" style="font-size:23.5px" textLength="20.5" lengthAdjust="spacingAndGlyphs">16</text>
<circle cx="890" cy="925" r="13.3" style="fill:#fbfbfb;stroke:#000;stroke-width:3"/>
<text x="890" y="933.4" class="t" style="font-size:23.5px" textLength="10" lengthAdjust="spacingAndGlyphs">9</text>
<circle cx="937.5" cy="967.5" r="13.3" style="fill:#fbfbfb;stroke:#000;stroke-width:3"/>
<text x="937.5" y="975.9" class="t" style="font-size:23.5px" textLength="10" lengthAdjust="spacingAndGlyphs">4</text>
<circle cx="1203.8" cy="970" r="13.3" style="fill:#fbfbfb;stroke:#000;stroke-width:3"/>
<text x="1203.8" y="978.4" class="t" style="font-size:23.5px" textLength="10" lengthAdjust="spacingAndGlyphs">7</text>
<circle cx="1231" cy="986" r="13.3" style="fill:#fbfbfb;stroke:#000;stroke-width:3"/>
<text x="1231" y="994.4" class="t" style="font-size:23.5px" textLength="10" lengthAdjust="spacingAndGlyphs">7</text>
<circle cx="1046" cy="1077.5" r="13.3" style="fill:#fbfbfb;stroke:#000;stroke-width:3"/>
<text x="1046" y="1085.9" class="t" style="font-size:23.5px" textLength="10" lengthAdjust="spacingAndGlyphs">1</text>
<circle cx="959" cy="1232" r="13.3" style="fill:#fbfbfb;stroke:#000;stroke-width:3"/>
<text x="959" y="1240.4" class="t" style="font-size:23.5px" textLength="10" lengthAdjust="spacingAndGlyphs">2</text>
<circle cx="1169" cy="1114" r="13.3" style="fill:#fbfbfb;stroke:#000;stroke-width:3"/>
<text x="1169" y="1122.4" class="t" style="font-size:23.5px" textLength="10" lengthAdjust="spacingAndGlyphs">5</text>
<circle cx="1287.5" cy="1105.5" r="13.3" style="fill:#fbfbfb;stroke:#000;stroke-width:3"/>
<text x="1287.5" y="1113.9" class="t" style="font-size:23.5px" textLength="10" lengthAdjust="spacingAndGlyphs">8</text>
<circle cx="1292.7" cy="1164.8" r="13.3" style="fill:#fbfbfb;stroke:#000;stroke-width:3"/>
<text x="1292.7" y="1173.2" class="t" style="font-size:23.5px" textLength="10" lengthAdjust="spacingAndGlyphs">6</text>
<circle cx="1337" cy="1199" r="13.3" style="fill:#fbfbfb;stroke:#000;stroke-width:3"/>
<text x="1337" y="1207.4" class="t" style="font-size:23.5px" textLength="10" lengthAdjust="spacingAndGlyphs">4</text>
<circle cx="1509.5" cy="1191.8" r="13.3" style="fill:#fbfbfb;stroke:#000;stroke-width:3"/>
<text x="1509.5" y="1200.2" class="t" style="font-size:23.5px" textLength="20.5" lengthAdjust="spacingAndGlyphs">21</text>
<circle cx="1442" cy="1237" r="13.3" style="fill:#fbfbfb;stroke:#000;stroke-width:3"/>
<text x="1442" y="1245.4" class="t" style="font-size:23.5px" textLength="20.5" lengthAdjust="spacingAndGlyphs">18</text>
<circle cx="1513" cy="1271" r="13.3" style="fill:#fbfbfb;stroke:#000;stroke-width:3"/>
<text x="1513" y="1279.4" class="t" style="font-size:23.5px" textLength="20.5" lengthAdjust="spacingAndGlyphs">20</text>
<ellipse cx="512" cy="1209" rx="14" ry="13" style="fill:#fbfbfb;stroke:#000;stroke-width:2.2"/>
<text x="512" y="1217.0" class="t" style="font-size:22px" textLength="19" lengthAdjust="spacingAndGlyphs">46</text>
<ellipse cx="565" cy="1234" rx="14" ry="13" style="fill:#fbfbfb;stroke:#000;stroke-width:2.2"/>
<text x="565" y="1242.0" class="t" style="font-size:22px" textLength="19" lengthAdjust="spacingAndGlyphs">45</text>
<ellipse cx="696" cy="1250" rx="14" ry="13" style="fill:#fbfbfb;stroke:#000;stroke-width:2.2"/>
<text x="696" y="1258.0" class="t" style="font-size:22px" textLength="19" lengthAdjust="spacingAndGlyphs">43</text>
<ellipse cx="776" cy="1348" rx="14" ry="13" style="fill:#fbfbfb;stroke:#000;stroke-width:2.2"/>
<text x="776" y="1356.0" class="t" style="font-size:22px" textLength="19" lengthAdjust="spacingAndGlyphs">45</text>
<ellipse cx="525" cy="1385" rx="14" ry="13" style="fill:#fbfbfb;stroke:#000;stroke-width:2.2"/>
<text x="525" y="1393.0" class="t" style="font-size:22px" textLength="19" lengthAdjust="spacingAndGlyphs">44</text>
<circle cx="599.1" cy="398.6" r="15.6" style="fill:#fbfbfb;stroke:#000;stroke-width:3.1"/>
<text x="599.4" y="404.2" class="t" style="font-size:15.5px" textLength="13" lengthAdjust="spacingAndGlyphs">49</text>
<circle cx="759.2" cy="501.5" r="15.6" style="fill:#fbfbfb;stroke:#000;stroke-width:3.1"/>
<text x="759.5" y="507.1" class="t" style="font-size:15.5px" textLength="13" lengthAdjust="spacingAndGlyphs">51</text>
<circle cx="711.6" cy="671.2" r="15.6" style="fill:#fbfbfb;stroke:#000;stroke-width:3.1"/>
<text x="711.9" y="676.8" class="t" style="font-size:15.5px" textLength="13" lengthAdjust="spacingAndGlyphs">47</text>
<circle cx="774.5" cy="840.8" r="15.6" style="fill:#fbfbfb;stroke:#000;stroke-width:3.1"/>
<text x="774.8" y="846.4" class="t" style="font-size:15.5px" textLength="13" lengthAdjust="spacingAndGlyphs">52</text>
<circle cx="768.7" cy="924.7" r="15.6" style="fill:#fbfbfb;stroke:#000;stroke-width:3.1"/>
<text x="769.0" y="930.3" class="t" style="font-size:15.5px" textLength="13" lengthAdjust="spacingAndGlyphs">50</text>
<circle cx="622" cy="884.7" r="15.6" style="fill:#fbfbfb;stroke:#000;stroke-width:3.1"/>
<text x="622.3" y="890.3" class="t" style="font-size:15.5px" textLength="13" lengthAdjust="spacingAndGlyphs">53</text>
<circle cx="268.75" cy="849.2" r="15.6" style="fill:#fbfbfb;stroke:#000;stroke-width:3.1"/>
<text x="269.05" y="854.8" class="t" style="font-size:15.5px" textLength="13" lengthAdjust="spacingAndGlyphs">52</text>
<circle cx="199.2" cy="885.6" r="15.6" style="fill:#fbfbfb;stroke:#000;stroke-width:3.1"/>
<text x="199.5" y="891.2" class="t" style="font-size:15.5px" textLength="13" lengthAdjust="spacingAndGlyphs">54</text>
<circle cx="69.2" cy="919.7" r="15.6" style="fill:#fbfbfb;stroke:#000;stroke-width:3.1"/>
<text x="69.5" y="925.3" class="t" style="font-size:15.5px" textLength="13" lengthAdjust="spacingAndGlyphs">51</text>
<circle cx="612.7" cy="1117.3" r="15.6" style="fill:#fbfbfb;stroke:#000;stroke-width:3.1"/>
<text x="613.0" y="1122.9" class="t" style="font-size:15.5px" textLength="13" lengthAdjust="spacingAndGlyphs">48</text>
<text x="1006.9" y="574" class="t" style="font-size:15px;text-anchor:start" textLength="88.1" lengthAdjust="spacingAndGlyphs">LOCTITE 648</text>
<text x="849.4" y="641.6" class="t" style="font-size:15px;text-anchor:start" textLength="88.1" lengthAdjust="spacingAndGlyphs">LOCTITE 243</text>
<text x="1246.3" y="1014" class="t" style="font-size:15px;text-anchor:start" textLength="87.7" lengthAdjust="spacingAndGlyphs">LOCTITE 243</text>
<text x="1147.1" y="1163.3" class="t" style="font-size:15px;text-anchor:start" textLength="87.7" lengthAdjust="spacingAndGlyphs">LOCTITE 243</text>
<path class="l" style="stroke-width:1.6" d="M1095,575.5 L1001,575.5 L996,582 M847.5,643 L947.8,643 L944,630 M1334.8,1016.7 L1244,1016.7 M1334.8,1016.7 L1310,1039.5 M1146.2,1165.7 L1238,1165.7 L1244,1147.5 M1227.4,509.6 L1227.4,525.5 M972,1224 L986,1218"/>
<ellipse cx="994.7" cy="585.5" rx="2.6" ry="4" fill="#222" transform="rotate(25 994.7 585.5)"/>
<path class="d" d="M103.4,836 L250,750.5"/>
<path class="d" d="M353,753.5 L213,834"/>
<path class="d" d="M726.8,417.7 L601,492 M726.8,417.7 L726.8,426"/>
<path class="d" d="M585.9,692 L587,722 L730.6,808.4 L732.5,828"/>
<path class="d" d="M905.5,882.4 L897.4,877.5 L897.4,677.6 L1363.7,943.5 L1363.7,836.9 L1324.7,814.1"/>
</svg>
</body></html>
